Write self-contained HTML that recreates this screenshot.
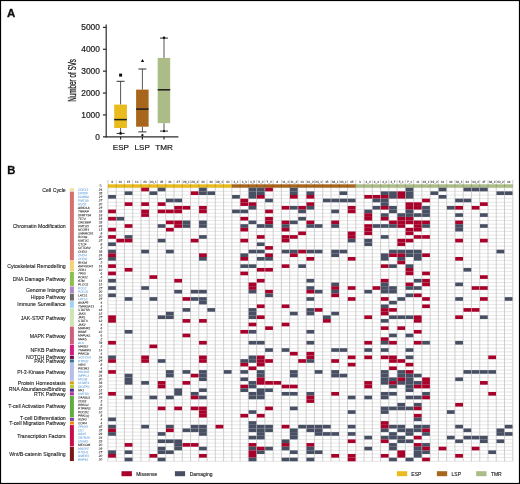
<!DOCTYPE html><html><head><meta charset="utf-8"><title>SV figure</title><style>html,body{margin:0;padding:0;background:#fff;overflow:hidden;}svg{display:block;}text{font-family:'Liberation Sans', Arial, Helvetica, sans-serif;}</style></head><body>
<svg width="520" height="484" viewBox="0 0 520 484">
<defs><filter id="soft" x="0" y="0" width="520" height="484" filterUnits="userSpaceOnUse"><feGaussianBlur stdDeviation="0.3"/></filter></defs>
<rect x="0" y="0" width="520" height="484" fill="#fff"/>
<g filter="url(#soft)">
<rect x="0" y="0" width="520" height="484" fill="#fff"/>
<text transform="translate(7.1,16.6) scale(1.08,1)" font-size="10.6" font-weight="bold" fill="#111" stroke="#111" stroke-width="0.3">A</text>
<g stroke="#2b2b2b" stroke-width="1.2" fill="none">
<line x1="106.20" y1="24.4" x2="106.20" y2="137.40"/>
<line x1="105.60" y1="136.80" x2="178.4" y2="136.80"/>
<line x1="102.9" y1="136.80" x2="106.20" y2="136.80"/>
<line x1="102.9" y1="114.92" x2="106.20" y2="114.92"/>
<line x1="102.9" y1="93.04" x2="106.20" y2="93.04"/>
<line x1="102.9" y1="71.16" x2="106.20" y2="71.16"/>
<line x1="102.9" y1="49.28" x2="106.20" y2="49.28"/>
<line x1="102.9" y1="27.40" x2="106.20" y2="27.40"/>
<line x1="120.60" y1="136.80" x2="120.60" y2="139.6"/>
<line x1="142.40" y1="136.80" x2="142.40" y2="139.6"/>
<line x1="164.00" y1="136.80" x2="164.00" y2="139.6"/>
</g>
<text x="99.9" y="139.80" font-size="8.4" fill="#1e1e1e" stroke="#1e1e1e" stroke-width="0.22" text-anchor="end">0</text>
<text x="99.9" y="117.92" font-size="8.4" fill="#1e1e1e" stroke="#1e1e1e" stroke-width="0.22" text-anchor="end">1000</text>
<text x="99.9" y="96.04" font-size="8.4" fill="#1e1e1e" stroke="#1e1e1e" stroke-width="0.22" text-anchor="end">2000</text>
<text x="99.9" y="74.16" font-size="8.4" fill="#1e1e1e" stroke="#1e1e1e" stroke-width="0.22" text-anchor="end">3000</text>
<text x="99.9" y="52.28" font-size="8.4" fill="#1e1e1e" stroke="#1e1e1e" stroke-width="0.22" text-anchor="end">4000</text>
<text x="99.9" y="30.40" font-size="8.4" fill="#1e1e1e" stroke="#1e1e1e" stroke-width="0.22" text-anchor="end">5000</text>
<text transform="translate(75.8,80.4) rotate(-90) scale(0.62,1)" x="0" y="0" font-size="10.2" fill="#1e1e1e" stroke="#1e1e1e" stroke-width="0.3" text-anchor="middle">Number of SVs</text>
<line x1="120.60" y1="81.30" x2="120.60" y2="104.60" stroke="#555" stroke-width="1"/><line x1="120.60" y1="128.00" x2="120.60" y2="133.40" stroke="#555" stroke-width="1"/><line x1="116.60" y1="81.30" x2="124.60" y2="81.30" stroke="#333" stroke-width="1"/><line x1="116.60" y1="133.40" x2="124.60" y2="133.40" stroke="#333" stroke-width="1"/><rect x="114.20" y="104.60" width="12.70" height="23.40" fill="#e9bb1e"/><rect x="114.20" y="118.85" width="12.70" height="1.5" fill="#1a1a1a"/>
<line x1="142.40" y1="69.00" x2="142.40" y2="89.60" stroke="#555" stroke-width="1"/><line x1="142.40" y1="126.70" x2="142.40" y2="131.90" stroke="#555" stroke-width="1"/><line x1="138.40" y1="69.00" x2="146.40" y2="69.00" stroke="#333" stroke-width="1"/><line x1="138.40" y1="131.90" x2="146.40" y2="131.90" stroke="#333" stroke-width="1"/><rect x="136.10" y="89.60" width="12.50" height="37.10" fill="#a8661f"/><rect x="136.10" y="108.35" width="12.50" height="1.5" fill="#1a1a1a"/>
<line x1="164.00" y1="38.10" x2="164.00" y2="57.90" stroke="#555" stroke-width="1"/><line x1="164.00" y1="123.10" x2="164.00" y2="131.10" stroke="#555" stroke-width="1"/><line x1="160.00" y1="38.10" x2="168.00" y2="38.10" stroke="#333" stroke-width="1"/><line x1="160.00" y1="131.10" x2="168.00" y2="131.10" stroke="#333" stroke-width="1"/><rect x="157.70" y="57.90" width="12.50" height="65.20" fill="#acbc86"/><rect x="157.70" y="89.05" width="12.50" height="1.5" fill="#1a1a1a"/>
<rect x="119.1" y="73.6" width="3" height="3" fill="#111"/>
<path d="M142.5 58.9 L144.2 62.1 L140.8 62.1 Z" fill="#111"/>
<circle cx="120.6" cy="133.4" r="1.3" fill="#111"/>
<circle cx="142.4" cy="135.2" r="1.1" fill="#111"/>
<circle cx="164.0" cy="131.1" r="1.2" fill="#111"/>
<circle cx="164.0" cy="37.8" r="1.3" fill="#111"/>
<text x="120.90" y="150.1" font-size="8.1" fill="#1e1e1e" stroke="#1e1e1e" stroke-width="0.22" text-anchor="middle">ESP</text>
<text x="142.20" y="150.1" font-size="8.1" fill="#1e1e1e" stroke="#1e1e1e" stroke-width="0.22" text-anchor="middle">LSP</text>
<text x="164.10" y="150.1" font-size="8.1" fill="#1e1e1e" stroke="#1e1e1e" stroke-width="0.22" text-anchor="middle">TMR</text>
<text transform="translate(7.2,173.9) scale(1.06,1)" font-size="10.6" font-weight="bold" fill="#111" stroke="#111" stroke-width="0.3">B</text>
<rect x="69.9" y="187.95" width="4.0" height="3.15" fill="#efe4a9"/>
<text x="65.7" y="191.82" font-size="5.2" fill="#1a1a1a" stroke="#1a1a1a" stroke-width="0.1" text-anchor="end">Cell Cycle</text>
<rect x="69.9" y="191.60" width="4.0" height="68.81" fill="#d6716f"/>
<text x="65.7" y="228.30" font-size="5.2" fill="#1a1a1a" stroke="#1a1a1a" stroke-width="0.1" text-anchor="end">Chromatin Modification</text>
<rect x="69.9" y="260.91" width="4.0" height="10.44" fill="#f3d175"/>
<text x="65.7" y="268.43" font-size="5.2" fill="#1a1a1a" stroke="#1a1a1a" stroke-width="0.1" text-anchor="end">Cytoskeletal Remodelling</text>
<rect x="69.9" y="271.85" width="4.0" height="14.09" fill="#8cbf4e"/>
<text x="65.7" y="281.20" font-size="5.2" fill="#1a1a1a" stroke="#1a1a1a" stroke-width="0.1" text-anchor="end">DNA Damage Pathway</text>
<rect x="69.9" y="286.45" width="4.0" height="6.80" fill="#b086c8"/>
<text x="65.7" y="291.64" font-size="5.2" fill="#1a1a1a" stroke="#1a1a1a" stroke-width="0.1" text-anchor="end">Genome Integrity</text>
<rect x="69.9" y="293.74" width="4.0" height="6.80" fill="#696969"/>
<text x="65.7" y="299.44" font-size="5.2" fill="#1a1a1a" stroke="#1a1a1a" stroke-width="0.1" text-anchor="end">Hippo Pathway</text>
<rect x="69.9" y="301.04" width="4.0" height="6.80" fill="#a3d2f6"/>
<text x="65.7" y="306.04" font-size="5.2" fill="#1a1a1a" stroke="#1a1a1a" stroke-width="0.1" text-anchor="end">Immune Surveillance</text>
<rect x="69.9" y="308.33" width="4.0" height="17.74" fill="#cde4b3"/>
<text x="65.7" y="319.50" font-size="5.2" fill="#1a1a1a" stroke="#1a1a1a" stroke-width="0.1" text-anchor="end">JAK-STAT Pathway</text>
<rect x="69.9" y="326.57" width="4.0" height="17.74" fill="#cc5f7c"/>
<text x="65.7" y="337.74" font-size="5.2" fill="#1a1a1a" stroke="#1a1a1a" stroke-width="0.1" text-anchor="end">MAPK Pathway</text>
<rect x="69.9" y="344.81" width="4.0" height="10.44" fill="#d11a80"/>
<text x="65.7" y="352.34" font-size="5.2" fill="#1a1a1a" stroke="#1a1a1a" stroke-width="0.1" text-anchor="end">NFKB Pathway</text>
<rect x="69.9" y="355.76" width="4.0" height="3.15" fill="#6a0e40"/>
<text x="65.7" y="359.03" font-size="5.2" fill="#1a1a1a" stroke="#1a1a1a" stroke-width="0.1" text-anchor="end">NOTCH Pathway</text>
<rect x="69.9" y="359.41" width="4.0" height="3.15" fill="#3b6f95"/>
<text x="65.7" y="363.28" font-size="5.2" fill="#1a1a1a" stroke="#1a1a1a" stroke-width="0.1" text-anchor="end">PAK Pathway</text>
<rect x="69.9" y="363.05" width="4.0" height="17.74" fill="#b7bce8"/>
<text x="65.7" y="374.22" font-size="5.2" fill="#1a1a1a" stroke="#1a1a1a" stroke-width="0.1" text-anchor="end">PI-3-Kinase Pathway</text>
<rect x="69.9" y="381.29" width="4.0" height="3.15" fill="#d3a21a"/>
<text x="65.7" y="385.17" font-size="5.2" fill="#1a1a1a" stroke="#1a1a1a" stroke-width="0.1" text-anchor="end">Protein Homeostasis</text>
<rect x="69.9" y="384.94" width="4.0" height="3.15" fill="#b6cd31"/>
<text x="65.7" y="390.64" font-size="5.2" fill="#1a1a1a" stroke="#1a1a1a" stroke-width="0.1" text-anchor="end">RNA Abundance/Binding</text>
<rect x="69.9" y="388.59" width="4.0" height="3.15" fill="#4b2b8c"/>
<rect x="69.9" y="392.24" width="4.0" height="3.15" fill="#b2339b"/>
<text x="65.7" y="396.11" font-size="5.2" fill="#1a1a1a" stroke="#1a1a1a" stroke-width="0.1" text-anchor="end">RTK Pathway</text>
<rect x="69.9" y="395.89" width="4.0" height="21.39" fill="#5fad3e"/>
<text x="65.7" y="407.63" font-size="5.2" fill="#1a1a1a" stroke="#1a1a1a" stroke-width="0.1" text-anchor="end">T-cell Activation Pathway</text>
<rect x="69.9" y="417.77" width="4.0" height="3.15" fill="#7c40a0"/>
<text x="65.7" y="420.45" font-size="5.2" fill="#1a1a1a" stroke="#1a1a1a" stroke-width="0.1" text-anchor="end">T-cell Differentiation</text>
<rect x="69.9" y="421.42" width="4.0" height="3.15" fill="#e98a12"/>
<text x="65.7" y="425.30" font-size="5.2" fill="#1a1a1a" stroke="#1a1a1a" stroke-width="0.1" text-anchor="end">T-cell Migration Pathway</text>
<rect x="69.9" y="425.07" width="4.0" height="21.39" fill="#c8114e"/>
<text x="65.7" y="438.06" font-size="5.2" fill="#1a1a1a" stroke="#1a1a1a" stroke-width="0.1" text-anchor="end">Transcription Factors</text>
<rect x="69.9" y="446.96" width="4.0" height="14.09" fill="#7b1212"/>
<text x="65.7" y="456.30" font-size="5.2" fill="#1a1a1a" stroke="#1a1a1a" stroke-width="0.1" text-anchor="end">Wnt/B-catenin Signalling</text>
<text transform="translate(99.3,186.6) scale(0.8,1)" font-size="3.4" font-style="italic" fill="#222">%</text>
<text transform="translate(78.0,190.67) rotate(0.3) scale(0.1)" font-size="32" font-style="italic" fill="#69a3dc" stroke="#69a3dc" stroke-width="0.7">CDK12</text>
<text transform="translate(102.2,190.67) rotate(0.3) scale(0.1)" font-size="31" font-style="italic" fill="#1a1a1a" stroke="#1a1a1a" stroke-width="0.7" text-anchor="end">24</text>
<text transform="translate(78.0,194.32) rotate(0.3) scale(0.1)" font-size="32" font-style="italic" fill="#69a3dc" stroke="#69a3dc" stroke-width="0.7">EP300</text>
<text transform="translate(102.2,194.32) rotate(0.3) scale(0.1)" font-size="31" font-style="italic" fill="#1a1a1a" stroke="#1a1a1a" stroke-width="0.7" text-anchor="end">35</text>
<text transform="translate(78.0,197.97) rotate(0.3) scale(0.1)" font-size="32" font-style="italic" fill="#69a3dc" stroke="#69a3dc" stroke-width="0.7">KDM6A</text>
<text transform="translate(102.2,197.97) rotate(0.3) scale(0.1)" font-size="31" font-style="italic" fill="#1a1a1a" stroke="#1a1a1a" stroke-width="0.7" text-anchor="end">27</text>
<text transform="translate(78.0,201.62) rotate(0.3) scale(0.1)" font-size="32" font-style="italic" fill="#69a3dc" stroke="#69a3dc" stroke-width="0.7">KMT2B</text>
<text transform="translate(102.2,201.62) rotate(0.3) scale(0.1)" font-size="31" font-style="italic" fill="#1a1a1a" stroke="#1a1a1a" stroke-width="0.7" text-anchor="end">27</text>
<text transform="translate(78.0,205.27) rotate(0.3) scale(0.1)" font-size="32" font-style="italic" fill="#69a3dc" stroke="#69a3dc" stroke-width="0.7">NSD1</text>
<text transform="translate(102.2,205.27) rotate(0.3) scale(0.1)" font-size="31" font-style="italic" fill="#1a1a1a" stroke="#1a1a1a" stroke-width="0.7" text-anchor="end">20</text>
<text transform="translate(78.0,208.91) rotate(0.3) scale(0.1)" font-size="32" font-style="italic" fill="#1a1a1a" stroke="#1a1a1a" stroke-width="0.7">ARID1A</text>
<text transform="translate(102.2,208.91) rotate(0.3) scale(0.1)" font-size="31" font-style="italic" fill="#1a1a1a" stroke="#1a1a1a" stroke-width="0.7" text-anchor="end">27</text>
<text transform="translate(78.0,212.56) rotate(0.3) scale(0.1)" font-size="32" font-style="italic" fill="#1a1a1a" stroke="#1a1a1a" stroke-width="0.7">TRRAP</text>
<text transform="translate(102.2,212.56) rotate(0.3) scale(0.1)" font-size="31" font-style="italic" fill="#1a1a1a" stroke="#1a1a1a" stroke-width="0.7" text-anchor="end">33</text>
<text transform="translate(78.0,216.21) rotate(0.3) scale(0.1)" font-size="32" font-style="italic" fill="#1a1a1a" stroke="#1a1a1a" stroke-width="0.7">DNMT3A</text>
<text transform="translate(102.2,216.21) rotate(0.3) scale(0.1)" font-size="31" font-style="italic" fill="#1a1a1a" stroke="#1a1a1a" stroke-width="0.7" text-anchor="end">18</text>
<text transform="translate(78.0,219.86) rotate(0.3) scale(0.1)" font-size="32" font-style="italic" fill="#1a1a1a" stroke="#1a1a1a" stroke-width="0.7">TET2</text>
<text transform="translate(102.2,219.86) rotate(0.3) scale(0.1)" font-size="31" font-style="italic" fill="#1a1a1a" stroke="#1a1a1a" stroke-width="0.7" text-anchor="end">18</text>
<text transform="translate(78.0,223.51) rotate(0.3) scale(0.1)" font-size="32" font-style="italic" fill="#1a1a1a" stroke="#1a1a1a" stroke-width="0.7">CREBBP</text>
<text transform="translate(102.2,223.51) rotate(0.3) scale(0.1)" font-size="31" font-style="italic" fill="#1a1a1a" stroke="#1a1a1a" stroke-width="0.7" text-anchor="end">33</text>
<text transform="translate(78.0,227.15) rotate(0.3) scale(0.1)" font-size="32" font-style="italic" fill="#1a1a1a" stroke="#1a1a1a" stroke-width="0.7">KMT2D</text>
<text transform="translate(102.2,227.15) rotate(0.3) scale(0.1)" font-size="31" font-style="italic" fill="#1a1a1a" stroke="#1a1a1a" stroke-width="0.7" text-anchor="end">43</text>
<text transform="translate(78.0,230.80) rotate(0.3) scale(0.1)" font-size="32" font-style="italic" fill="#1a1a1a" stroke="#1a1a1a" stroke-width="0.7">NCOR1</text>
<text transform="translate(102.2,230.80) rotate(0.3) scale(0.1)" font-size="31" font-style="italic" fill="#1a1a1a" stroke="#1a1a1a" stroke-width="0.7" text-anchor="end">13</text>
<text transform="translate(78.0,234.45) rotate(0.3) scale(0.1)" font-size="32" font-style="italic" fill="#1a1a1a" stroke="#1a1a1a" stroke-width="0.7">SMARCB1</text>
<text transform="translate(102.2,234.45) rotate(0.3) scale(0.1)" font-size="31" font-style="italic" fill="#1a1a1a" stroke="#1a1a1a" stroke-width="0.7" text-anchor="end">8</text>
<text transform="translate(78.0,238.10) rotate(0.3) scale(0.1)" font-size="32" font-style="italic" fill="#1a1a1a" stroke="#1a1a1a" stroke-width="0.7">BCOR</text>
<text transform="translate(102.2,238.10) rotate(0.3) scale(0.1)" font-size="31" font-style="italic" fill="#1a1a1a" stroke="#1a1a1a" stroke-width="0.7" text-anchor="end">20</text>
<text transform="translate(78.0,241.75) rotate(0.3) scale(0.1)" font-size="32" font-style="italic" fill="#1a1a1a" stroke="#1a1a1a" stroke-width="0.7">KMT2C</text>
<text transform="translate(102.2,241.75) rotate(0.3) scale(0.1)" font-size="31" font-style="italic" fill="#1a1a1a" stroke="#1a1a1a" stroke-width="0.7" text-anchor="end">27</text>
<text transform="translate(78.0,245.39) rotate(0.3) scale(0.1)" font-size="32" font-style="italic" fill="#1a1a1a" stroke="#1a1a1a" stroke-width="0.7">CTCF</text>
<text transform="translate(102.2,245.39) rotate(0.3) scale(0.1)" font-size="31" font-style="italic" fill="#1a1a1a" stroke="#1a1a1a" stroke-width="0.7" text-anchor="end">8</text>
<text transform="translate(78.0,249.04) rotate(0.3) scale(0.1)" font-size="32" font-style="italic" fill="#1a1a1a" stroke="#1a1a1a" stroke-width="0.7">SETDB2</text>
<text transform="translate(102.2,249.04) rotate(0.3) scale(0.1)" font-size="31" font-style="italic" fill="#1a1a1a" stroke="#1a1a1a" stroke-width="0.7" text-anchor="end">2</text>
<text transform="translate(78.0,252.69) rotate(0.3) scale(0.1)" font-size="32" font-style="italic" fill="#1a1a1a" stroke="#1a1a1a" stroke-width="0.7">CHD3</text>
<text transform="translate(102.2,252.69) rotate(0.3) scale(0.1)" font-size="31" font-style="italic" fill="#1a1a1a" stroke="#1a1a1a" stroke-width="0.7" text-anchor="end">33</text>
<text transform="translate(78.0,256.34) rotate(0.3) scale(0.1)" font-size="32" font-style="italic" fill="#69a3dc" stroke="#69a3dc" stroke-width="0.7">CHD4</text>
<text transform="translate(102.2,256.34) rotate(0.3) scale(0.1)" font-size="31" font-style="italic" fill="#1a1a1a" stroke="#1a1a1a" stroke-width="0.7" text-anchor="end">24</text>
<text transform="translate(78.0,259.99) rotate(0.3) scale(0.1)" font-size="32" font-style="italic" fill="#69a3dc" stroke="#69a3dc" stroke-width="0.7">CHD8</text>
<text transform="translate(102.2,259.99) rotate(0.3) scale(0.1)" font-size="31" font-style="italic" fill="#1a1a1a" stroke="#1a1a1a" stroke-width="0.7" text-anchor="end">20</text>
<text transform="translate(78.0,263.63) rotate(0.3) scale(0.1)" font-size="32" font-style="italic" fill="#1a1a1a" stroke="#1a1a1a" stroke-width="0.7">RHOA</text>
<text transform="translate(102.2,263.63) rotate(0.3) scale(0.1)" font-size="31" font-style="italic" fill="#1a1a1a" stroke="#1a1a1a" stroke-width="0.7" text-anchor="end">2</text>
<text transform="translate(78.0,267.28) rotate(0.3) scale(0.1)" font-size="32" font-style="italic" fill="#1a1a1a" stroke="#1a1a1a" stroke-width="0.7">ARHGEF3</text>
<text transform="translate(102.2,267.28) rotate(0.3) scale(0.1)" font-size="31" font-style="italic" fill="#1a1a1a" stroke="#1a1a1a" stroke-width="0.7" text-anchor="end">16</text>
<text transform="translate(78.0,270.93) rotate(0.3) scale(0.1)" font-size="32" font-style="italic" fill="#1a1a1a" stroke="#1a1a1a" stroke-width="0.7">ZEB1</text>
<text transform="translate(102.2,270.93) rotate(0.3) scale(0.1)" font-size="31" font-style="italic" fill="#1a1a1a" stroke="#1a1a1a" stroke-width="0.7" text-anchor="end">10</text>
<text transform="translate(78.0,274.58) rotate(0.3) scale(0.1)" font-size="32" font-style="italic" fill="#1a1a1a" stroke="#1a1a1a" stroke-width="0.7">TP53</text>
<text transform="translate(102.2,274.58) rotate(0.3) scale(0.1)" font-size="31" font-style="italic" fill="#1a1a1a" stroke="#1a1a1a" stroke-width="0.7" text-anchor="end">6</text>
<text transform="translate(78.0,278.23) rotate(0.3) scale(0.1)" font-size="32" font-style="italic" fill="#1a1a1a" stroke="#1a1a1a" stroke-width="0.7">PCF11</text>
<text transform="translate(102.2,278.23) rotate(0.3) scale(0.1)" font-size="31" font-style="italic" fill="#1a1a1a" stroke="#1a1a1a" stroke-width="0.7" text-anchor="end">4</text>
<text transform="translate(78.0,281.87) rotate(0.3) scale(0.1)" font-size="32" font-style="italic" fill="#1a1a1a" stroke="#1a1a1a" stroke-width="0.7">ATM</text>
<text transform="translate(102.2,281.87) rotate(0.3) scale(0.1)" font-size="31" font-style="italic" fill="#1a1a1a" stroke="#1a1a1a" stroke-width="0.7" text-anchor="end">14</text>
<text transform="translate(78.0,285.52) rotate(0.3) scale(0.1)" font-size="32" font-style="italic" fill="#1a1a1a" stroke="#1a1a1a" stroke-width="0.7">PLCG1</text>
<text transform="translate(102.2,285.52) rotate(0.3) scale(0.1)" font-size="31" font-style="italic" fill="#1a1a1a" stroke="#1a1a1a" stroke-width="0.7" text-anchor="end">12</text>
<text transform="translate(78.0,289.17) rotate(0.3) scale(0.1)" font-size="32" font-style="italic" fill="#69a3dc" stroke="#69a3dc" stroke-width="0.7">POLE</text>
<text transform="translate(102.2,289.17) rotate(0.3) scale(0.1)" font-size="31" font-style="italic" fill="#1a1a1a" stroke="#1a1a1a" stroke-width="0.7" text-anchor="end">27</text>
<text transform="translate(78.0,292.82) rotate(0.3) scale(0.1)" font-size="32" font-style="italic" fill="#69a3dc" stroke="#69a3dc" stroke-width="0.7">POLD1</text>
<text transform="translate(102.2,292.82) rotate(0.3) scale(0.1)" font-size="31" font-style="italic" fill="#1a1a1a" stroke="#1a1a1a" stroke-width="0.7" text-anchor="end">20</text>
<text transform="translate(78.0,296.47) rotate(0.3) scale(0.1)" font-size="32" font-style="italic" fill="#1a1a1a" stroke="#1a1a1a" stroke-width="0.7">LATS1</text>
<text transform="translate(102.2,296.47) rotate(0.3) scale(0.1)" font-size="31" font-style="italic" fill="#1a1a1a" stroke="#1a1a1a" stroke-width="0.7" text-anchor="end">10</text>
<text transform="translate(78.0,300.11) rotate(0.3) scale(0.1)" font-size="32" font-style="italic" fill="#69a3dc" stroke="#69a3dc" stroke-width="0.7">LATS2</text>
<text transform="translate(102.2,300.11) rotate(0.3) scale(0.1)" font-size="31" font-style="italic" fill="#1a1a1a" stroke="#1a1a1a" stroke-width="0.7" text-anchor="end">27</text>
<text transform="translate(78.0,303.76) rotate(0.3) scale(0.1)" font-size="32" font-style="italic" fill="#1a1a1a" stroke="#1a1a1a" stroke-width="0.7">AKAP9</text>
<text transform="translate(102.2,303.76) rotate(0.3) scale(0.1)" font-size="31" font-style="italic" fill="#1a1a1a" stroke="#1a1a1a" stroke-width="0.7" text-anchor="end">4</text>
<text transform="translate(78.0,307.41) rotate(0.3) scale(0.1)" font-size="32" font-style="italic" fill="#1a1a1a" stroke="#1a1a1a" stroke-width="0.7">TNFRSF13</text>
<text transform="translate(102.2,307.41) rotate(0.3) scale(0.1)" font-size="31" font-style="italic" fill="#1a1a1a" stroke="#1a1a1a" stroke-width="0.7" text-anchor="end">4</text>
<text transform="translate(78.0,311.06) rotate(0.3) scale(0.1)" font-size="32" font-style="italic" fill="#1a1a1a" stroke="#1a1a1a" stroke-width="0.7">STAT5B</text>
<text transform="translate(102.2,311.06) rotate(0.3) scale(0.1)" font-size="31" font-style="italic" fill="#1a1a1a" stroke="#1a1a1a" stroke-width="0.7" text-anchor="end">18</text>
<text transform="translate(78.0,314.71) rotate(0.3) scale(0.1)" font-size="32" font-style="italic" fill="#1a1a1a" stroke="#1a1a1a" stroke-width="0.7">JAK3</text>
<text transform="translate(102.2,314.71) rotate(0.3) scale(0.1)" font-size="31" font-style="italic" fill="#1a1a1a" stroke="#1a1a1a" stroke-width="0.7" text-anchor="end">12</text>
<text transform="translate(78.0,318.35) rotate(0.3) scale(0.1)" font-size="32" font-style="italic" fill="#1a1a1a" stroke="#1a1a1a" stroke-width="0.7">JAK1</text>
<text transform="translate(102.2,318.35) rotate(0.3) scale(0.1)" font-size="31" font-style="italic" fill="#1a1a1a" stroke="#1a1a1a" stroke-width="0.7" text-anchor="end">27</text>
<text transform="translate(78.0,322.00) rotate(0.3) scale(0.1)" font-size="32" font-style="italic" fill="#1a1a1a" stroke="#1a1a1a" stroke-width="0.7">STAT3</text>
<text transform="translate(102.2,322.00) rotate(0.3) scale(0.1)" font-size="31" font-style="italic" fill="#1a1a1a" stroke="#1a1a1a" stroke-width="0.7" text-anchor="end">12</text>
<text transform="translate(78.0,325.65) rotate(0.3) scale(0.1)" font-size="32" font-style="italic" fill="#1a1a1a" stroke="#1a1a1a" stroke-width="0.7">JAK2</text>
<text transform="translate(102.2,325.65) rotate(0.3) scale(0.1)" font-size="31" font-style="italic" fill="#1a1a1a" stroke="#1a1a1a" stroke-width="0.7" text-anchor="end">4</text>
<text transform="translate(78.0,329.30) rotate(0.3) scale(0.1)" font-size="32" font-style="italic" fill="#1a1a1a" stroke="#1a1a1a" stroke-width="0.7">MAP4K1</text>
<text transform="translate(102.2,329.30) rotate(0.3) scale(0.1)" font-size="31" font-style="italic" fill="#1a1a1a" stroke="#1a1a1a" stroke-width="0.7" text-anchor="end">6</text>
<text transform="translate(78.0,332.95) rotate(0.3) scale(0.1)" font-size="32" font-style="italic" fill="#1a1a1a" stroke="#1a1a1a" stroke-width="0.7">BRAF</text>
<text transform="translate(102.2,332.95) rotate(0.3) scale(0.1)" font-size="31" font-style="italic" fill="#1a1a1a" stroke="#1a1a1a" stroke-width="0.7" text-anchor="end">10</text>
<text transform="translate(78.0,336.59) rotate(0.3) scale(0.1)" font-size="32" font-style="italic" fill="#1a1a1a" stroke="#1a1a1a" stroke-width="0.7">MAP2K1</text>
<text transform="translate(102.2,336.59) rotate(0.3) scale(0.1)" font-size="31" font-style="italic" fill="#1a1a1a" stroke="#1a1a1a" stroke-width="0.7" text-anchor="end">6</text>
<text transform="translate(78.0,340.24) rotate(0.3) scale(0.1)" font-size="32" font-style="italic" fill="#1a1a1a" stroke="#1a1a1a" stroke-width="0.7">NRAS</text>
<text transform="translate(102.2,340.24) rotate(0.3) scale(0.1)" font-size="31" font-style="italic" fill="#1a1a1a" stroke="#1a1a1a" stroke-width="0.7" text-anchor="end">2</text>
<text transform="translate(78.0,343.89) rotate(0.3) scale(0.1)" font-size="32" font-style="italic" fill="#69a3dc" stroke="#69a3dc" stroke-width="0.7">ALK</text>
<text transform="translate(102.2,343.89) rotate(0.3) scale(0.1)" font-size="31" font-style="italic" fill="#1a1a1a" stroke="#1a1a1a" stroke-width="0.7" text-anchor="end">33</text>
<text transform="translate(78.0,347.54) rotate(0.3) scale(0.1)" font-size="32" font-style="italic" fill="#1a1a1a" stroke="#1a1a1a" stroke-width="0.7">NFKB2</text>
<text transform="translate(102.2,347.54) rotate(0.3) scale(0.1)" font-size="31" font-style="italic" fill="#1a1a1a" stroke="#1a1a1a" stroke-width="0.7" text-anchor="end">2</text>
<text transform="translate(78.0,351.19) rotate(0.3) scale(0.1)" font-size="32" font-style="italic" fill="#1a1a1a" stroke="#1a1a1a" stroke-width="0.7">TNFAIP3</text>
<text transform="translate(102.2,351.19) rotate(0.3) scale(0.1)" font-size="31" font-style="italic" fill="#1a1a1a" stroke="#1a1a1a" stroke-width="0.7" text-anchor="end">14</text>
<text transform="translate(78.0,354.83) rotate(0.3) scale(0.1)" font-size="32" font-style="italic" fill="#1a1a1a" stroke="#1a1a1a" stroke-width="0.7">PRKCB</text>
<text transform="translate(102.2,354.83) rotate(0.3) scale(0.1)" font-size="31" font-style="italic" fill="#1a1a1a" stroke="#1a1a1a" stroke-width="0.7" text-anchor="end">4</text>
<text transform="translate(78.0,358.48) rotate(0.3) scale(0.1)" font-size="32" font-style="italic" fill="#69a3dc" stroke="#69a3dc" stroke-width="0.7">NOTCH2</text>
<text transform="translate(102.2,358.48) rotate(0.3) scale(0.1)" font-size="31" font-style="italic" fill="#1a1a1a" stroke="#1a1a1a" stroke-width="0.7" text-anchor="end">24</text>
<text transform="translate(78.0,362.13) rotate(0.3) scale(0.1)" font-size="32" font-style="italic" fill="#69a3dc" stroke="#69a3dc" stroke-width="0.7">PTPN2</text>
<text transform="translate(102.2,362.13) rotate(0.3) scale(0.1)" font-size="31" font-style="italic" fill="#1a1a1a" stroke="#1a1a1a" stroke-width="0.7" text-anchor="end">27</text>
<text transform="translate(78.0,365.78) rotate(0.3) scale(0.1)" font-size="32" font-style="italic" fill="#1a1a1a" stroke="#1a1a1a" stroke-width="0.7">VAV1</text>
<text transform="translate(102.2,365.78) rotate(0.3) scale(0.1)" font-size="31" font-style="italic" fill="#1a1a1a" stroke="#1a1a1a" stroke-width="0.7" text-anchor="end">8</text>
<text transform="translate(78.0,369.43) rotate(0.3) scale(0.1)" font-size="32" font-style="italic" fill="#1a1a1a" stroke="#1a1a1a" stroke-width="0.7">PIK3R1</text>
<text transform="translate(102.2,369.43) rotate(0.3) scale(0.1)" font-size="31" font-style="italic" fill="#1a1a1a" stroke="#1a1a1a" stroke-width="0.7" text-anchor="end">4</text>
<text transform="translate(78.0,373.07) rotate(0.3) scale(0.1)" font-size="32" font-style="italic" fill="#69a3dc" stroke="#69a3dc" stroke-width="0.7">PIK3CB</text>
<text transform="translate(102.2,373.07) rotate(0.3) scale(0.1)" font-size="31" font-style="italic" fill="#1a1a1a" stroke="#1a1a1a" stroke-width="0.7" text-anchor="end">35</text>
<text transform="translate(78.0,376.72) rotate(0.3) scale(0.1)" font-size="32" font-style="italic" fill="#69a3dc" stroke="#69a3dc" stroke-width="0.7">INPPL1</text>
<text transform="translate(102.2,376.72) rotate(0.3) scale(0.1)" font-size="31" font-style="italic" fill="#1a1a1a" stroke="#1a1a1a" stroke-width="0.7" text-anchor="end">24</text>
<text transform="translate(78.0,380.37) rotate(0.3) scale(0.1)" font-size="32" font-style="italic" fill="#69a3dc" stroke="#69a3dc" stroke-width="0.7">MTOR</text>
<text transform="translate(102.2,380.37) rotate(0.3) scale(0.1)" font-size="31" font-style="italic" fill="#1a1a1a" stroke="#1a1a1a" stroke-width="0.7" text-anchor="end">20</text>
<text transform="translate(78.0,384.02) rotate(0.3) scale(0.1)" font-size="32" font-style="italic" fill="#69a3dc" stroke="#69a3dc" stroke-width="0.7">HUWE1</text>
<text transform="translate(102.2,384.02) rotate(0.3) scale(0.1)" font-size="31" font-style="italic" fill="#1a1a1a" stroke="#1a1a1a" stroke-width="0.7" text-anchor="end">33</text>
<text transform="translate(78.0,387.67) rotate(0.3) scale(0.1)" font-size="32" font-style="italic" fill="#69a3dc" stroke="#69a3dc" stroke-width="0.7">DICER1</text>
<text transform="translate(102.2,387.67) rotate(0.3) scale(0.1)" font-size="31" font-style="italic" fill="#1a1a1a" stroke="#1a1a1a" stroke-width="0.7" text-anchor="end">20</text>
<text transform="translate(78.0,391.31) rotate(0.3) scale(0.1)" font-size="32" font-style="italic" fill="#1a1a1a" stroke="#1a1a1a" stroke-width="0.7">NF1</text>
<text transform="translate(102.2,391.31) rotate(0.3) scale(0.1)" font-size="31" font-style="italic" fill="#1a1a1a" stroke="#1a1a1a" stroke-width="0.7" text-anchor="end">12</text>
<text transform="translate(78.0,394.96) rotate(0.3) scale(0.1)" font-size="32" font-style="italic" fill="#69a3dc" stroke="#69a3dc" stroke-width="0.7">KMT5B</text>
<text transform="translate(102.2,394.96) rotate(0.3) scale(0.1)" font-size="31" font-style="italic" fill="#1a1a1a" stroke="#1a1a1a" stroke-width="0.7" text-anchor="end">27</text>
<text transform="translate(78.0,398.61) rotate(0.3) scale(0.1)" font-size="32" font-style="italic" fill="#1a1a1a" stroke="#1a1a1a" stroke-width="0.7">CARD11</text>
<text transform="translate(102.2,398.61) rotate(0.3) scale(0.1)" font-size="31" font-style="italic" fill="#1a1a1a" stroke="#1a1a1a" stroke-width="0.7" text-anchor="end">29</text>
<text transform="translate(78.0,402.26) rotate(0.3) scale(0.1)" font-size="32" font-style="italic" fill="#1a1a1a" stroke="#1a1a1a" stroke-width="0.7">CD28</text>
<text transform="translate(102.2,402.26) rotate(0.3) scale(0.1)" font-size="31" font-style="italic" fill="#1a1a1a" stroke="#1a1a1a" stroke-width="0.7" text-anchor="end">2</text>
<text transform="translate(78.0,405.91) rotate(0.3) scale(0.1)" font-size="32" font-style="italic" fill="#1a1a1a" stroke="#1a1a1a" stroke-width="0.7">PRKG1</text>
<text transform="translate(102.2,405.91) rotate(0.3) scale(0.1)" font-size="31" font-style="italic" fill="#1a1a1a" stroke="#1a1a1a" stroke-width="0.7" text-anchor="end">6</text>
<text transform="translate(78.0,409.55) rotate(0.3) scale(0.1)" font-size="32" font-style="italic" fill="#1a1a1a" stroke="#1a1a1a" stroke-width="0.7">PTPRN2</text>
<text transform="translate(102.2,409.55) rotate(0.3) scale(0.1)" font-size="31" font-style="italic" fill="#1a1a1a" stroke="#1a1a1a" stroke-width="0.7" text-anchor="end">22</text>
<text transform="translate(78.0,413.20) rotate(0.3) scale(0.1)" font-size="32" font-style="italic" fill="#1a1a1a" stroke="#1a1a1a" stroke-width="0.7">PDCD1</text>
<text transform="translate(102.2,413.20) rotate(0.3) scale(0.1)" font-size="31" font-style="italic" fill="#1a1a1a" stroke="#1a1a1a" stroke-width="0.7" text-anchor="end">10</text>
<text transform="translate(78.0,416.85) rotate(0.3) scale(0.1)" font-size="32" font-style="italic" fill="#1a1a1a" stroke="#1a1a1a" stroke-width="0.7">PRKCQ</text>
<text transform="translate(102.2,416.85) rotate(0.3) scale(0.1)" font-size="31" font-style="italic" fill="#1a1a1a" stroke="#1a1a1a" stroke-width="0.7" text-anchor="end">8</text>
<text transform="translate(78.0,420.50) rotate(0.3) scale(0.1)" font-size="32" font-style="italic" fill="#1a1a1a" stroke="#1a1a1a" stroke-width="0.7">IKZF2</text>
<text transform="translate(102.2,420.50) rotate(0.3) scale(0.1)" font-size="31" font-style="italic" fill="#1a1a1a" stroke="#1a1a1a" stroke-width="0.7" text-anchor="end">4</text>
<text transform="translate(78.0,424.15) rotate(0.3) scale(0.1)" font-size="32" font-style="italic" fill="#1a1a1a" stroke="#1a1a1a" stroke-width="0.7">CCR4</text>
<text transform="translate(102.2,424.15) rotate(0.3) scale(0.1)" font-size="31" font-style="italic" fill="#1a1a1a" stroke="#1a1a1a" stroke-width="0.7" text-anchor="end">4</text>
<text transform="translate(78.0,427.79) rotate(0.3) scale(0.1)" font-size="32" font-style="italic" fill="#69a3dc" stroke="#69a3dc" stroke-width="0.7">ZFHX3</text>
<text transform="translate(102.2,427.79) rotate(0.3) scale(0.1)" font-size="31" font-style="italic" fill="#1a1a1a" stroke="#1a1a1a" stroke-width="0.7" text-anchor="end">45</text>
<text transform="translate(78.0,431.44) rotate(0.3) scale(0.1)" font-size="32" font-style="italic" fill="#69a3dc" stroke="#69a3dc" stroke-width="0.7">CIC</text>
<text transform="translate(102.2,431.44) rotate(0.3) scale(0.1)" font-size="31" font-style="italic" fill="#1a1a1a" stroke="#1a1a1a" stroke-width="0.7" text-anchor="end">37</text>
<text transform="translate(78.0,435.09) rotate(0.3) scale(0.1)" font-size="32" font-style="italic" fill="#69a3dc" stroke="#69a3dc" stroke-width="0.7">PAX5</text>
<text transform="translate(102.2,435.09) rotate(0.3) scale(0.1)" font-size="31" font-style="italic" fill="#1a1a1a" stroke="#1a1a1a" stroke-width="0.7" text-anchor="end">29</text>
<text transform="translate(78.0,438.74) rotate(0.3) scale(0.1)" font-size="32" font-style="italic" fill="#69a3dc" stroke="#69a3dc" stroke-width="0.7">ZBTB20</text>
<text transform="translate(102.2,438.74) rotate(0.3) scale(0.1)" font-size="31" font-style="italic" fill="#1a1a1a" stroke="#1a1a1a" stroke-width="0.7" text-anchor="end">24</text>
<text transform="translate(78.0,442.39) rotate(0.3) scale(0.1)" font-size="32" font-style="italic" fill="#69a3dc" stroke="#69a3dc" stroke-width="0.7">IZUMO</text>
<text transform="translate(102.2,442.39) rotate(0.3) scale(0.1)" font-size="31" font-style="italic" fill="#1a1a1a" stroke="#1a1a1a" stroke-width="0.7" text-anchor="end">22</text>
<text transform="translate(78.0,446.03) rotate(0.3) scale(0.1)" font-size="32" font-style="italic" fill="#1a1a1a" stroke="#1a1a1a" stroke-width="0.7">MECOM</text>
<text transform="translate(102.2,446.03) rotate(0.3) scale(0.1)" font-size="31" font-style="italic" fill="#1a1a1a" stroke="#1a1a1a" stroke-width="0.7" text-anchor="end">20</text>
<text transform="translate(78.0,449.68) rotate(0.3) scale(0.1)" font-size="32" font-style="italic" fill="#69a3dc" stroke="#69a3dc" stroke-width="0.7">MACF1</text>
<text transform="translate(102.2,449.68) rotate(0.3) scale(0.1)" font-size="31" font-style="italic" fill="#1a1a1a" stroke="#1a1a1a" stroke-width="0.7" text-anchor="end">29</text>
<text transform="translate(78.0,453.33) rotate(0.3) scale(0.1)" font-size="32" font-style="italic" fill="#69a3dc" stroke="#69a3dc" stroke-width="0.7">PTCH1</text>
<text transform="translate(102.2,453.33) rotate(0.3) scale(0.1)" font-size="31" font-style="italic" fill="#1a1a1a" stroke="#1a1a1a" stroke-width="0.7" text-anchor="end">27</text>
<text transform="translate(78.0,456.98) rotate(0.3) scale(0.1)" font-size="32" font-style="italic" fill="#69a3dc" stroke="#69a3dc" stroke-width="0.7">AMER1</text>
<text transform="translate(102.2,456.98) rotate(0.3) scale(0.1)" font-size="31" font-style="italic" fill="#1a1a1a" stroke="#1a1a1a" stroke-width="0.7" text-anchor="end">20</text>
<text transform="translate(78.0,460.63) rotate(0.3) scale(0.1)" font-size="32" font-style="italic" fill="#69a3dc" stroke="#69a3dc" stroke-width="0.7">RNF43</text>
<text transform="translate(102.2,460.63) rotate(0.3) scale(0.1)" font-size="31" font-style="italic" fill="#1a1a1a" stroke="#1a1a1a" stroke-width="0.7" text-anchor="end">20</text>
<g stroke="#dedede" stroke-width="0.8">
<line x1="107.90" y1="187.70" x2="512.79" y2="187.70"/>
<line x1="107.90" y1="191.35" x2="512.79" y2="191.35"/>
<line x1="107.90" y1="195.00" x2="512.79" y2="195.00"/>
<line x1="107.90" y1="198.64" x2="512.79" y2="198.64"/>
<line x1="107.90" y1="202.29" x2="512.79" y2="202.29"/>
<line x1="107.90" y1="205.94" x2="512.79" y2="205.94"/>
<line x1="107.90" y1="209.59" x2="512.79" y2="209.59"/>
<line x1="107.90" y1="213.24" x2="512.79" y2="213.24"/>
<line x1="107.90" y1="216.88" x2="512.79" y2="216.88"/>
<line x1="107.90" y1="220.53" x2="512.79" y2="220.53"/>
<line x1="107.90" y1="224.18" x2="512.79" y2="224.18"/>
<line x1="107.90" y1="227.83" x2="512.79" y2="227.83"/>
<line x1="107.90" y1="231.48" x2="512.79" y2="231.48"/>
<line x1="107.90" y1="235.12" x2="512.79" y2="235.12"/>
<line x1="107.90" y1="238.77" x2="512.79" y2="238.77"/>
<line x1="107.90" y1="242.42" x2="512.79" y2="242.42"/>
<line x1="107.90" y1="246.07" x2="512.79" y2="246.07"/>
<line x1="107.90" y1="249.72" x2="512.79" y2="249.72"/>
<line x1="107.90" y1="253.36" x2="512.79" y2="253.36"/>
<line x1="107.90" y1="257.01" x2="512.79" y2="257.01"/>
<line x1="107.90" y1="260.66" x2="512.79" y2="260.66"/>
<line x1="107.90" y1="264.31" x2="512.79" y2="264.31"/>
<line x1="107.90" y1="267.96" x2="512.79" y2="267.96"/>
<line x1="107.90" y1="271.60" x2="512.79" y2="271.60"/>
<line x1="107.90" y1="275.25" x2="512.79" y2="275.25"/>
<line x1="107.90" y1="278.90" x2="512.79" y2="278.90"/>
<line x1="107.90" y1="282.55" x2="512.79" y2="282.55"/>
<line x1="107.90" y1="286.20" x2="512.79" y2="286.20"/>
<line x1="107.90" y1="289.84" x2="512.79" y2="289.84"/>
<line x1="107.90" y1="293.49" x2="512.79" y2="293.49"/>
<line x1="107.90" y1="297.14" x2="512.79" y2="297.14"/>
<line x1="107.90" y1="300.79" x2="512.79" y2="300.79"/>
<line x1="107.90" y1="304.44" x2="512.79" y2="304.44"/>
<line x1="107.90" y1="308.08" x2="512.79" y2="308.08"/>
<line x1="107.90" y1="311.73" x2="512.79" y2="311.73"/>
<line x1="107.90" y1="315.38" x2="512.79" y2="315.38"/>
<line x1="107.90" y1="319.03" x2="512.79" y2="319.03"/>
<line x1="107.90" y1="322.68" x2="512.79" y2="322.68"/>
<line x1="107.90" y1="326.32" x2="512.79" y2="326.32"/>
<line x1="107.90" y1="329.97" x2="512.79" y2="329.97"/>
<line x1="107.90" y1="333.62" x2="512.79" y2="333.62"/>
<line x1="107.90" y1="337.27" x2="512.79" y2="337.27"/>
<line x1="107.90" y1="340.92" x2="512.79" y2="340.92"/>
<line x1="107.90" y1="344.56" x2="512.79" y2="344.56"/>
<line x1="107.90" y1="348.21" x2="512.79" y2="348.21"/>
<line x1="107.90" y1="351.86" x2="512.79" y2="351.86"/>
<line x1="107.90" y1="355.51" x2="512.79" y2="355.51"/>
<line x1="107.90" y1="359.16" x2="512.79" y2="359.16"/>
<line x1="107.90" y1="362.80" x2="512.79" y2="362.80"/>
<line x1="107.90" y1="366.45" x2="512.79" y2="366.45"/>
<line x1="107.90" y1="370.10" x2="512.79" y2="370.10"/>
<line x1="107.90" y1="373.75" x2="512.79" y2="373.75"/>
<line x1="107.90" y1="377.40" x2="512.79" y2="377.40"/>
<line x1="107.90" y1="381.04" x2="512.79" y2="381.04"/>
<line x1="107.90" y1="384.69" x2="512.79" y2="384.69"/>
<line x1="107.90" y1="388.34" x2="512.79" y2="388.34"/>
<line x1="107.90" y1="391.99" x2="512.79" y2="391.99"/>
<line x1="107.90" y1="395.64" x2="512.79" y2="395.64"/>
<line x1="107.90" y1="399.28" x2="512.79" y2="399.28"/>
<line x1="107.90" y1="402.93" x2="512.79" y2="402.93"/>
<line x1="107.90" y1="406.58" x2="512.79" y2="406.58"/>
<line x1="107.90" y1="410.23" x2="512.79" y2="410.23"/>
<line x1="107.90" y1="413.88" x2="512.79" y2="413.88"/>
<line x1="107.90" y1="417.52" x2="512.79" y2="417.52"/>
<line x1="107.90" y1="421.17" x2="512.79" y2="421.17"/>
<line x1="107.90" y1="424.82" x2="512.79" y2="424.82"/>
<line x1="107.90" y1="428.47" x2="512.79" y2="428.47"/>
<line x1="107.90" y1="432.12" x2="512.79" y2="432.12"/>
<line x1="107.90" y1="435.76" x2="512.79" y2="435.76"/>
<line x1="107.90" y1="439.41" x2="512.79" y2="439.41"/>
<line x1="107.90" y1="443.06" x2="512.79" y2="443.06"/>
<line x1="107.90" y1="446.71" x2="512.79" y2="446.71"/>
<line x1="107.90" y1="450.36" x2="512.79" y2="450.36"/>
<line x1="107.90" y1="454.00" x2="512.79" y2="454.00"/>
<line x1="107.90" y1="457.65" x2="512.79" y2="457.65"/>
<line x1="107.90" y1="461.30" x2="512.79" y2="461.30"/>
</g>
<g stroke="#c9c9c9" stroke-width="0.9">
<line x1="107.90" y1="187.50" x2="107.90" y2="461.30"/>
<line x1="116.16" y1="187.50" x2="116.16" y2="461.30"/>
<line x1="124.43" y1="187.50" x2="124.43" y2="461.30"/>
<line x1="132.69" y1="187.50" x2="132.69" y2="461.30"/>
<line x1="140.95" y1="187.50" x2="140.95" y2="461.30"/>
<line x1="149.22" y1="187.50" x2="149.22" y2="461.30"/>
<line x1="157.48" y1="187.50" x2="157.48" y2="461.30"/>
<line x1="165.74" y1="187.50" x2="165.74" y2="461.30"/>
<line x1="174.00" y1="187.50" x2="174.00" y2="461.30"/>
<line x1="182.27" y1="187.50" x2="182.27" y2="461.30"/>
<line x1="190.53" y1="187.50" x2="190.53" y2="461.30"/>
<line x1="198.79" y1="187.50" x2="198.79" y2="461.30"/>
<line x1="207.06" y1="187.50" x2="207.06" y2="461.30"/>
<line x1="215.32" y1="187.50" x2="215.32" y2="461.30"/>
<line x1="223.58" y1="187.50" x2="223.58" y2="461.30"/>
<line x1="231.84" y1="187.50" x2="231.84" y2="461.30"/>
<line x1="240.11" y1="187.50" x2="240.11" y2="461.30"/>
<line x1="248.37" y1="187.50" x2="248.37" y2="461.30"/>
<line x1="256.63" y1="187.50" x2="256.63" y2="461.30"/>
<line x1="264.90" y1="187.50" x2="264.90" y2="461.30"/>
<line x1="273.16" y1="187.50" x2="273.16" y2="461.30"/>
<line x1="281.42" y1="187.50" x2="281.42" y2="461.30"/>
<line x1="289.69" y1="187.50" x2="289.69" y2="461.30"/>
<line x1="297.95" y1="187.50" x2="297.95" y2="461.30"/>
<line x1="306.21" y1="187.50" x2="306.21" y2="461.30"/>
<line x1="314.48" y1="187.50" x2="314.48" y2="461.30"/>
<line x1="322.74" y1="187.50" x2="322.74" y2="461.30"/>
<line x1="331.00" y1="187.50" x2="331.00" y2="461.30"/>
<line x1="339.26" y1="187.50" x2="339.26" y2="461.30"/>
<line x1="347.53" y1="187.50" x2="347.53" y2="461.30"/>
<line x1="355.79" y1="187.50" x2="355.79" y2="461.30"/>
<line x1="364.05" y1="187.50" x2="364.05" y2="461.30"/>
<line x1="372.32" y1="187.50" x2="372.32" y2="461.30"/>
<line x1="380.58" y1="187.50" x2="380.58" y2="461.30"/>
<line x1="388.84" y1="187.50" x2="388.84" y2="461.30"/>
<line x1="397.11" y1="187.50" x2="397.11" y2="461.30"/>
<line x1="405.37" y1="187.50" x2="405.37" y2="461.30"/>
<line x1="413.63" y1="187.50" x2="413.63" y2="461.30"/>
<line x1="421.89" y1="187.50" x2="421.89" y2="461.30"/>
<line x1="430.16" y1="187.50" x2="430.16" y2="461.30"/>
<line x1="438.42" y1="187.50" x2="438.42" y2="461.30"/>
<line x1="446.68" y1="187.50" x2="446.68" y2="461.30"/>
<line x1="454.95" y1="187.50" x2="454.95" y2="461.30"/>
<line x1="463.21" y1="187.50" x2="463.21" y2="461.30"/>
<line x1="471.47" y1="187.50" x2="471.47" y2="461.30"/>
<line x1="479.74" y1="187.50" x2="479.74" y2="461.30"/>
<line x1="488.00" y1="187.50" x2="488.00" y2="461.30"/>
<line x1="496.26" y1="187.50" x2="496.26" y2="461.30"/>
<line x1="504.52" y1="187.50" x2="504.52" y2="461.30"/>
<line x1="512.79" y1="187.50" x2="512.79" y2="461.30"/>
</g>
<text transform="translate(112.03,183.1) rotate(0.3) scale(0.1)" font-size="31" fill="#222" stroke="#222" stroke-width="0.5" text-anchor="middle">9</text>
<text transform="translate(120.29,183.1) rotate(0.3) scale(0.1)" font-size="31" fill="#222" stroke="#222" stroke-width="0.5" text-anchor="middle">10</text>
<text transform="translate(128.56,183.1) rotate(0.3) scale(0.1)" font-size="31" fill="#222" stroke="#222" stroke-width="0.5" text-anchor="middle">15</text>
<text transform="translate(136.82,183.1) rotate(0.3) scale(0.1)" font-size="31" fill="#222" stroke="#222" stroke-width="0.5" text-anchor="middle">16</text>
<text transform="translate(145.08,183.1) rotate(0.3) scale(0.1)" font-size="31" fill="#222" stroke="#222" stroke-width="0.5" text-anchor="middle">20</text>
<text transform="translate(153.35,183.1) rotate(0.3) scale(0.1)" font-size="31" fill="#222" stroke="#222" stroke-width="0.5" text-anchor="middle">20_1</text>
<text transform="translate(161.61,183.1) rotate(0.3) scale(0.1)" font-size="31" fill="#222" stroke="#222" stroke-width="0.5" text-anchor="middle">25</text>
<text transform="translate(169.87,183.1) rotate(0.3) scale(0.1)" font-size="31" fill="#222" stroke="#222" stroke-width="0.5" text-anchor="middle">26</text>
<text transform="translate(178.14,183.1) rotate(0.3) scale(0.1)" font-size="31" fill="#222" stroke="#222" stroke-width="0.5" text-anchor="middle">27</text>
<text transform="translate(186.40,183.1) rotate(0.3) scale(0.1)" font-size="31" fill="#222" stroke="#222" stroke-width="0.5" text-anchor="middle">29_1</text>
<text transform="translate(194.66,183.1) rotate(0.3) scale(0.1)" font-size="31" fill="#222" stroke="#222" stroke-width="0.5" text-anchor="middle">29_2</text>
<text transform="translate(202.92,183.1) rotate(0.3) scale(0.1)" font-size="31" fill="#222" stroke="#222" stroke-width="0.5" text-anchor="middle">30</text>
<text transform="translate(211.19,183.1) rotate(0.3) scale(0.1)" font-size="31" fill="#222" stroke="#222" stroke-width="0.5" text-anchor="middle">36</text>
<text transform="translate(219.45,183.1) rotate(0.3) scale(0.1)" font-size="31" fill="#222" stroke="#222" stroke-width="0.5" text-anchor="middle">39_1</text>
<text transform="translate(227.71,183.1) rotate(0.3) scale(0.1)" font-size="31" fill="#222" stroke="#222" stroke-width="0.5" text-anchor="middle">40</text>
<text transform="translate(235.98,183.1) rotate(0.3) scale(0.1)" font-size="31" fill="#222" stroke="#222" stroke-width="0.5" text-anchor="middle">4_1</text>
<text transform="translate(244.24,183.1) rotate(0.3) scale(0.1)" font-size="31" fill="#222" stroke="#222" stroke-width="0.5" text-anchor="middle">4_3</text>
<text transform="translate(252.50,183.1) rotate(0.3) scale(0.1)" font-size="31" fill="#222" stroke="#222" stroke-width="0.5" text-anchor="middle">4_5</text>
<text transform="translate(260.77,183.1) rotate(0.3) scale(0.1)" font-size="31" fill="#222" stroke="#222" stroke-width="0.5" text-anchor="middle">5_2</text>
<text transform="translate(269.03,183.1) rotate(0.3) scale(0.1)" font-size="31" fill="#222" stroke="#222" stroke-width="0.5" text-anchor="middle">7_2</text>
<text transform="translate(277.29,183.1) rotate(0.3) scale(0.1)" font-size="31" fill="#222" stroke="#222" stroke-width="0.5" text-anchor="middle">8</text>
<text transform="translate(285.55,183.1) rotate(0.3) scale(0.1)" font-size="31" fill="#222" stroke="#222" stroke-width="0.5" text-anchor="middle">11_1</text>
<text transform="translate(293.82,183.1) rotate(0.3) scale(0.1)" font-size="31" fill="#222" stroke="#222" stroke-width="0.5" text-anchor="middle">11_2</text>
<text transform="translate(302.08,183.1) rotate(0.3) scale(0.1)" font-size="31" fill="#222" stroke="#222" stroke-width="0.5" text-anchor="middle">13</text>
<text transform="translate(310.34,183.1) rotate(0.3) scale(0.1)" font-size="31" fill="#222" stroke="#222" stroke-width="0.5" text-anchor="middle">16_2</text>
<text transform="translate(318.61,183.1) rotate(0.3) scale(0.1)" font-size="31" fill="#222" stroke="#222" stroke-width="0.5" text-anchor="middle">24_1</text>
<text transform="translate(326.87,183.1) rotate(0.3) scale(0.1)" font-size="31" fill="#222" stroke="#222" stroke-width="0.5" text-anchor="middle">35</text>
<text transform="translate(335.13,183.1) rotate(0.3) scale(0.1)" font-size="31" fill="#222" stroke="#222" stroke-width="0.5" text-anchor="middle">38_1</text>
<text transform="translate(343.40,183.1) rotate(0.3) scale(0.1)" font-size="31" fill="#222" stroke="#222" stroke-width="0.5" text-anchor="middle">40_1</text>
<text transform="translate(351.66,183.1) rotate(0.3) scale(0.1)" font-size="31" fill="#222" stroke="#222" stroke-width="0.5" text-anchor="middle">45</text>
<text transform="translate(359.92,183.1) rotate(0.3) scale(0.1)" font-size="31" fill="#222" stroke="#222" stroke-width="0.5" text-anchor="middle">3</text>
<text transform="translate(368.18,183.1) rotate(0.3) scale(0.1)" font-size="31" fill="#222" stroke="#222" stroke-width="0.5" text-anchor="middle">4_2</text>
<text transform="translate(376.45,183.1) rotate(0.3) scale(0.1)" font-size="31" fill="#222" stroke="#222" stroke-width="0.5" text-anchor="middle">4_4</text>
<text transform="translate(384.71,183.1) rotate(0.3) scale(0.1)" font-size="31" fill="#222" stroke="#222" stroke-width="0.5" text-anchor="middle">4_6</text>
<text transform="translate(392.97,183.1) rotate(0.3) scale(0.1)" font-size="31" fill="#222" stroke="#222" stroke-width="0.5" text-anchor="middle">4_7</text>
<text transform="translate(401.24,183.1) rotate(0.3) scale(0.1)" font-size="31" fill="#222" stroke="#222" stroke-width="0.5" text-anchor="middle">5_1</text>
<text transform="translate(409.50,183.1) rotate(0.3) scale(0.1)" font-size="31" fill="#222" stroke="#222" stroke-width="0.5" text-anchor="middle">7_1</text>
<text transform="translate(417.76,183.1) rotate(0.3) scale(0.1)" font-size="31" fill="#222" stroke="#222" stroke-width="0.5" text-anchor="middle">11</text>
<text transform="translate(426.03,183.1) rotate(0.3) scale(0.1)" font-size="31" fill="#222" stroke="#222" stroke-width="0.5" text-anchor="middle">19_1</text>
<text transform="translate(434.29,183.1) rotate(0.3) scale(0.1)" font-size="31" fill="#222" stroke="#222" stroke-width="0.5" text-anchor="middle">19_2</text>
<text transform="translate(442.55,183.1) rotate(0.3) scale(0.1)" font-size="31" fill="#222" stroke="#222" stroke-width="0.5" text-anchor="middle">31</text>
<text transform="translate(450.81,183.1) rotate(0.3) scale(0.1)" font-size="31" fill="#222" stroke="#222" stroke-width="0.5" text-anchor="middle">32</text>
<text transform="translate(459.08,183.1) rotate(0.3) scale(0.1)" font-size="31" fill="#222" stroke="#222" stroke-width="0.5" text-anchor="middle">33_1</text>
<text transform="translate(467.34,183.1) rotate(0.3) scale(0.1)" font-size="31" fill="#222" stroke="#222" stroke-width="0.5" text-anchor="middle">34</text>
<text transform="translate(475.60,183.1) rotate(0.3) scale(0.1)" font-size="31" fill="#222" stroke="#222" stroke-width="0.5" text-anchor="middle">34_2</text>
<text transform="translate(483.87,183.1) rotate(0.3) scale(0.1)" font-size="31" fill="#222" stroke="#222" stroke-width="0.5" text-anchor="middle">37</text>
<text transform="translate(492.13,183.1) rotate(0.3) scale(0.1)" font-size="31" fill="#222" stroke="#222" stroke-width="0.5" text-anchor="middle">38_2</text>
<text transform="translate(500.39,183.1) rotate(0.3) scale(0.1)" font-size="31" fill="#222" stroke="#222" stroke-width="0.5" text-anchor="middle">40_2</text>
<text transform="translate(508.66,183.1) rotate(0.3) scale(0.1)" font-size="31" fill="#222" stroke="#222" stroke-width="0.5" text-anchor="middle">44</text>
<rect x="107.90" y="184.3" width="123.94" height="3.4" fill="#e9bb1e"/>
<rect x="231.84" y="184.3" width="123.94" height="3.4" fill="#a8661f"/>
<rect x="355.79" y="184.3" width="157.00" height="3.4" fill="#acbc86"/>
<g stroke="#000" stroke-opacity="0.22" stroke-width="0.7">
<line x1="107.90" y1="183.6" x2="107.90" y2="187.4"/>
<line x1="116.16" y1="183.6" x2="116.16" y2="187.4"/>
<line x1="124.43" y1="183.6" x2="124.43" y2="187.4"/>
<line x1="132.69" y1="183.6" x2="132.69" y2="187.4"/>
<line x1="140.95" y1="183.6" x2="140.95" y2="187.4"/>
<line x1="149.22" y1="183.6" x2="149.22" y2="187.4"/>
<line x1="157.48" y1="183.6" x2="157.48" y2="187.4"/>
<line x1="165.74" y1="183.6" x2="165.74" y2="187.4"/>
<line x1="174.00" y1="183.6" x2="174.00" y2="187.4"/>
<line x1="182.27" y1="183.6" x2="182.27" y2="187.4"/>
<line x1="190.53" y1="183.6" x2="190.53" y2="187.4"/>
<line x1="198.79" y1="183.6" x2="198.79" y2="187.4"/>
<line x1="207.06" y1="183.6" x2="207.06" y2="187.4"/>
<line x1="215.32" y1="183.6" x2="215.32" y2="187.4"/>
<line x1="223.58" y1="183.6" x2="223.58" y2="187.4"/>
<line x1="231.84" y1="183.6" x2="231.84" y2="187.4"/>
<line x1="240.11" y1="183.6" x2="240.11" y2="187.4"/>
<line x1="248.37" y1="183.6" x2="248.37" y2="187.4"/>
<line x1="256.63" y1="183.6" x2="256.63" y2="187.4"/>
<line x1="264.90" y1="183.6" x2="264.90" y2="187.4"/>
<line x1="273.16" y1="183.6" x2="273.16" y2="187.4"/>
<line x1="281.42" y1="183.6" x2="281.42" y2="187.4"/>
<line x1="289.69" y1="183.6" x2="289.69" y2="187.4"/>
<line x1="297.95" y1="183.6" x2="297.95" y2="187.4"/>
<line x1="306.21" y1="183.6" x2="306.21" y2="187.4"/>
<line x1="314.48" y1="183.6" x2="314.48" y2="187.4"/>
<line x1="322.74" y1="183.6" x2="322.74" y2="187.4"/>
<line x1="331.00" y1="183.6" x2="331.00" y2="187.4"/>
<line x1="339.26" y1="183.6" x2="339.26" y2="187.4"/>
<line x1="347.53" y1="183.6" x2="347.53" y2="187.4"/>
<line x1="355.79" y1="183.6" x2="355.79" y2="187.4"/>
<line x1="364.05" y1="183.6" x2="364.05" y2="187.4"/>
<line x1="372.32" y1="183.6" x2="372.32" y2="187.4"/>
<line x1="380.58" y1="183.6" x2="380.58" y2="187.4"/>
<line x1="388.84" y1="183.6" x2="388.84" y2="187.4"/>
<line x1="397.11" y1="183.6" x2="397.11" y2="187.4"/>
<line x1="405.37" y1="183.6" x2="405.37" y2="187.4"/>
<line x1="413.63" y1="183.6" x2="413.63" y2="187.4"/>
<line x1="421.89" y1="183.6" x2="421.89" y2="187.4"/>
<line x1="430.16" y1="183.6" x2="430.16" y2="187.4"/>
<line x1="438.42" y1="183.6" x2="438.42" y2="187.4"/>
<line x1="446.68" y1="183.6" x2="446.68" y2="187.4"/>
<line x1="454.95" y1="183.6" x2="454.95" y2="187.4"/>
<line x1="463.21" y1="183.6" x2="463.21" y2="187.4"/>
<line x1="471.47" y1="183.6" x2="471.47" y2="187.4"/>
<line x1="479.74" y1="183.6" x2="479.74" y2="187.4"/>
<line x1="488.00" y1="183.6" x2="488.00" y2="187.4"/>
<line x1="496.26" y1="183.6" x2="496.26" y2="187.4"/>
<line x1="504.52" y1="183.6" x2="504.52" y2="187.4"/>
<line x1="512.79" y1="183.6" x2="512.79" y2="187.4"/>
</g>
<g stroke="#999" stroke-width="0.5">
<line x1="107.90" y1="179.8" x2="107.90" y2="183.6"/>
<line x1="116.16" y1="179.8" x2="116.16" y2="183.6"/>
<line x1="124.43" y1="179.8" x2="124.43" y2="183.6"/>
<line x1="132.69" y1="179.8" x2="132.69" y2="183.6"/>
<line x1="140.95" y1="179.8" x2="140.95" y2="183.6"/>
<line x1="149.22" y1="179.8" x2="149.22" y2="183.6"/>
<line x1="157.48" y1="179.8" x2="157.48" y2="183.6"/>
<line x1="165.74" y1="179.8" x2="165.74" y2="183.6"/>
<line x1="174.00" y1="179.8" x2="174.00" y2="183.6"/>
<line x1="182.27" y1="179.8" x2="182.27" y2="183.6"/>
<line x1="190.53" y1="179.8" x2="190.53" y2="183.6"/>
<line x1="198.79" y1="179.8" x2="198.79" y2="183.6"/>
<line x1="207.06" y1="179.8" x2="207.06" y2="183.6"/>
<line x1="215.32" y1="179.8" x2="215.32" y2="183.6"/>
<line x1="223.58" y1="179.8" x2="223.58" y2="183.6"/>
<line x1="231.84" y1="179.8" x2="231.84" y2="183.6"/>
<line x1="240.11" y1="179.8" x2="240.11" y2="183.6"/>
<line x1="248.37" y1="179.8" x2="248.37" y2="183.6"/>
<line x1="256.63" y1="179.8" x2="256.63" y2="183.6"/>
<line x1="264.90" y1="179.8" x2="264.90" y2="183.6"/>
<line x1="273.16" y1="179.8" x2="273.16" y2="183.6"/>
<line x1="281.42" y1="179.8" x2="281.42" y2="183.6"/>
<line x1="289.69" y1="179.8" x2="289.69" y2="183.6"/>
<line x1="297.95" y1="179.8" x2="297.95" y2="183.6"/>
<line x1="306.21" y1="179.8" x2="306.21" y2="183.6"/>
<line x1="314.48" y1="179.8" x2="314.48" y2="183.6"/>
<line x1="322.74" y1="179.8" x2="322.74" y2="183.6"/>
<line x1="331.00" y1="179.8" x2="331.00" y2="183.6"/>
<line x1="339.26" y1="179.8" x2="339.26" y2="183.6"/>
<line x1="347.53" y1="179.8" x2="347.53" y2="183.6"/>
<line x1="355.79" y1="179.8" x2="355.79" y2="183.6"/>
<line x1="364.05" y1="179.8" x2="364.05" y2="183.6"/>
<line x1="372.32" y1="179.8" x2="372.32" y2="183.6"/>
<line x1="380.58" y1="179.8" x2="380.58" y2="183.6"/>
<line x1="388.84" y1="179.8" x2="388.84" y2="183.6"/>
<line x1="397.11" y1="179.8" x2="397.11" y2="183.6"/>
<line x1="405.37" y1="179.8" x2="405.37" y2="183.6"/>
<line x1="413.63" y1="179.8" x2="413.63" y2="183.6"/>
<line x1="421.89" y1="179.8" x2="421.89" y2="183.6"/>
<line x1="430.16" y1="179.8" x2="430.16" y2="183.6"/>
<line x1="438.42" y1="179.8" x2="438.42" y2="183.6"/>
<line x1="446.68" y1="179.8" x2="446.68" y2="183.6"/>
<line x1="454.95" y1="179.8" x2="454.95" y2="183.6"/>
<line x1="463.21" y1="179.8" x2="463.21" y2="183.6"/>
<line x1="471.47" y1="179.8" x2="471.47" y2="183.6"/>
<line x1="479.74" y1="179.8" x2="479.74" y2="183.6"/>
<line x1="488.00" y1="179.8" x2="488.00" y2="183.6"/>
<line x1="496.26" y1="179.8" x2="496.26" y2="183.6"/>
<line x1="504.52" y1="179.8" x2="504.52" y2="183.6"/>
<line x1="512.79" y1="179.8" x2="512.79" y2="183.6"/>
</g>
<rect x="141.20" y="187.70" width="7.76" height="3.65" fill="#a8032c"/>
<rect x="157.73" y="187.70" width="7.76" height="3.65" fill="#485064"/>
<rect x="199.04" y="187.70" width="7.76" height="3.65" fill="#485064"/>
<rect x="248.62" y="187.70" width="7.76" height="3.65" fill="#485064"/>
<rect x="256.88" y="187.70" width="7.76" height="3.65" fill="#485064"/>
<rect x="265.15" y="187.70" width="7.76" height="3.65" fill="#a8032c"/>
<rect x="289.94" y="187.70" width="7.76" height="3.65" fill="#485064"/>
<rect x="405.62" y="187.70" width="7.76" height="3.65" fill="#485064"/>
<rect x="438.67" y="187.70" width="7.76" height="3.65" fill="#485064"/>
<rect x="463.46" y="187.70" width="7.76" height="3.65" fill="#485064"/>
<rect x="471.72" y="187.70" width="7.76" height="3.65" fill="#485064"/>
<rect x="479.99" y="187.70" width="7.76" height="3.65" fill="#485064"/>
<rect x="124.68" y="191.35" width="7.76" height="3.65" fill="#485064"/>
<rect x="149.47" y="191.35" width="7.76" height="3.65" fill="#485064"/>
<rect x="190.78" y="191.35" width="7.76" height="3.65" fill="#a8032c"/>
<rect x="199.04" y="191.35" width="7.76" height="3.65" fill="#485064"/>
<rect x="207.31" y="191.35" width="7.76" height="3.65" fill="#485064"/>
<rect x="248.62" y="191.35" width="7.76" height="3.65" fill="#485064"/>
<rect x="256.88" y="191.35" width="7.76" height="3.65" fill="#485064"/>
<rect x="289.94" y="191.35" width="7.76" height="3.65" fill="#485064"/>
<rect x="306.46" y="191.35" width="7.76" height="3.65" fill="#485064"/>
<rect x="339.51" y="191.35" width="7.76" height="3.65" fill="#485064"/>
<rect x="380.83" y="191.35" width="7.76" height="3.65" fill="#485064"/>
<rect x="389.09" y="191.35" width="7.76" height="3.65" fill="#485064"/>
<rect x="397.36" y="191.35" width="7.76" height="3.65" fill="#a8032c"/>
<rect x="405.62" y="191.35" width="7.76" height="3.65" fill="#485064"/>
<rect x="430.41" y="191.35" width="7.76" height="3.65" fill="#485064"/>
<rect x="496.51" y="191.35" width="7.76" height="3.65" fill="#485064"/>
<rect x="504.77" y="191.35" width="7.76" height="3.65" fill="#485064"/>
<rect x="108.15" y="195.00" width="7.76" height="3.65" fill="#485064"/>
<rect x="232.09" y="195.00" width="7.76" height="3.65" fill="#485064"/>
<rect x="248.62" y="195.00" width="7.76" height="3.65" fill="#485064"/>
<rect x="256.88" y="195.00" width="7.76" height="3.65" fill="#a8032c"/>
<rect x="289.94" y="195.00" width="7.76" height="3.65" fill="#a8032c"/>
<rect x="306.46" y="195.00" width="7.76" height="3.65" fill="#a8032c"/>
<rect x="364.30" y="195.00" width="7.76" height="3.65" fill="#a8032c"/>
<rect x="372.57" y="195.00" width="7.76" height="3.65" fill="#a8032c"/>
<rect x="380.83" y="195.00" width="7.76" height="3.65" fill="#a8032c"/>
<rect x="389.09" y="195.00" width="7.76" height="3.65" fill="#485064"/>
<rect x="397.36" y="195.00" width="7.76" height="3.65" fill="#a8032c"/>
<rect x="405.62" y="195.00" width="7.76" height="3.65" fill="#485064"/>
<rect x="438.67" y="195.00" width="7.76" height="3.65" fill="#485064"/>
<rect x="165.99" y="198.64" width="7.76" height="3.65" fill="#485064"/>
<rect x="174.25" y="198.64" width="7.76" height="3.65" fill="#485064"/>
<rect x="240.36" y="198.64" width="7.76" height="3.65" fill="#a8032c"/>
<rect x="265.15" y="198.64" width="7.76" height="3.65" fill="#485064"/>
<rect x="322.99" y="198.64" width="7.76" height="3.65" fill="#485064"/>
<rect x="331.25" y="198.64" width="7.76" height="3.65" fill="#485064"/>
<rect x="339.51" y="198.64" width="7.76" height="3.65" fill="#485064"/>
<rect x="347.78" y="198.64" width="7.76" height="3.65" fill="#485064"/>
<rect x="372.57" y="198.64" width="7.76" height="3.65" fill="#485064"/>
<rect x="380.83" y="198.64" width="7.76" height="3.65" fill="#485064"/>
<rect x="422.14" y="198.64" width="7.76" height="3.65" fill="#a8032c"/>
<rect x="455.20" y="198.64" width="7.76" height="3.65" fill="#485064"/>
<rect x="463.46" y="198.64" width="7.76" height="3.65" fill="#485064"/>
<rect x="124.68" y="202.29" width="7.76" height="3.65" fill="#a8032c"/>
<rect x="141.20" y="202.29" width="7.76" height="3.65" fill="#a8032c"/>
<rect x="157.73" y="202.29" width="7.76" height="3.65" fill="#a8032c"/>
<rect x="240.36" y="202.29" width="7.76" height="3.65" fill="#a8032c"/>
<rect x="248.62" y="202.29" width="7.76" height="3.65" fill="#a8032c"/>
<rect x="306.46" y="202.29" width="7.76" height="3.65" fill="#a8032c"/>
<rect x="380.83" y="202.29" width="7.76" height="3.65" fill="#485064"/>
<rect x="405.62" y="202.29" width="7.76" height="3.65" fill="#a8032c"/>
<rect x="413.88" y="202.29" width="7.76" height="3.65" fill="#a8032c"/>
<rect x="479.99" y="202.29" width="7.76" height="3.65" fill="#a8032c"/>
<rect x="174.25" y="205.94" width="7.76" height="3.65" fill="#a8032c"/>
<rect x="182.52" y="205.94" width="7.76" height="3.65" fill="#a8032c"/>
<rect x="199.04" y="205.94" width="7.76" height="3.65" fill="#a8032c"/>
<rect x="248.62" y="205.94" width="7.76" height="3.65" fill="#485064"/>
<rect x="281.67" y="205.94" width="7.76" height="3.65" fill="#a8032c"/>
<rect x="289.94" y="205.94" width="7.76" height="3.65" fill="#485064"/>
<rect x="298.20" y="205.94" width="7.76" height="3.65" fill="#a8032c"/>
<rect x="306.46" y="205.94" width="7.76" height="3.65" fill="#485064"/>
<rect x="347.78" y="205.94" width="7.76" height="3.65" fill="#a8032c"/>
<rect x="372.57" y="205.94" width="7.76" height="3.65" fill="#485064"/>
<rect x="380.83" y="205.94" width="7.76" height="3.65" fill="#a8032c"/>
<rect x="389.09" y="205.94" width="7.76" height="3.65" fill="#485064"/>
<rect x="405.62" y="205.94" width="7.76" height="3.65" fill="#a8032c"/>
<rect x="413.88" y="205.94" width="7.76" height="3.65" fill="#a8032c"/>
<rect x="422.14" y="205.94" width="7.76" height="3.65" fill="#485064"/>
<rect x="446.93" y="205.94" width="7.76" height="3.65" fill="#485064"/>
<rect x="455.20" y="205.94" width="7.76" height="3.65" fill="#a8032c"/>
<rect x="471.72" y="205.94" width="7.76" height="3.65" fill="#a8032c"/>
<rect x="108.15" y="209.59" width="7.76" height="3.65" fill="#a8032c"/>
<rect x="141.20" y="209.59" width="7.76" height="3.65" fill="#a8032c"/>
<rect x="157.73" y="209.59" width="7.76" height="3.65" fill="#a8032c"/>
<rect x="165.99" y="209.59" width="7.76" height="3.65" fill="#a8032c"/>
<rect x="174.25" y="209.59" width="7.76" height="3.65" fill="#a8032c"/>
<rect x="199.04" y="209.59" width="7.76" height="3.65" fill="#a8032c"/>
<rect x="232.09" y="209.59" width="7.76" height="3.65" fill="#485064"/>
<rect x="240.36" y="209.59" width="7.76" height="3.65" fill="#485064"/>
<rect x="265.15" y="209.59" width="7.76" height="3.65" fill="#a8032c"/>
<rect x="298.20" y="209.59" width="7.76" height="3.65" fill="#485064"/>
<rect x="331.25" y="209.59" width="7.76" height="3.65" fill="#485064"/>
<rect x="347.78" y="209.59" width="7.76" height="3.65" fill="#a8032c"/>
<rect x="364.30" y="209.59" width="7.76" height="3.65" fill="#485064"/>
<rect x="389.09" y="209.59" width="7.76" height="3.65" fill="#485064"/>
<rect x="405.62" y="209.59" width="7.76" height="3.65" fill="#485064"/>
<rect x="422.14" y="209.59" width="7.76" height="3.65" fill="#485064"/>
<rect x="141.20" y="213.24" width="7.76" height="3.65" fill="#a8032c"/>
<rect x="364.30" y="213.24" width="7.76" height="3.65" fill="#a8032c"/>
<rect x="380.83" y="213.24" width="7.76" height="3.65" fill="#485064"/>
<rect x="397.36" y="213.24" width="7.76" height="3.65" fill="#485064"/>
<rect x="405.62" y="213.24" width="7.76" height="3.65" fill="#485064"/>
<rect x="413.88" y="213.24" width="7.76" height="3.65" fill="#485064"/>
<rect x="422.14" y="213.24" width="7.76" height="3.65" fill="#485064"/>
<rect x="455.20" y="213.24" width="7.76" height="3.65" fill="#485064"/>
<rect x="479.99" y="213.24" width="7.76" height="3.65" fill="#485064"/>
<rect x="108.15" y="216.88" width="7.76" height="3.65" fill="#a8032c"/>
<rect x="116.41" y="216.88" width="7.76" height="3.65" fill="#485064"/>
<rect x="240.36" y="216.88" width="7.76" height="3.65" fill="#a8032c"/>
<rect x="265.15" y="216.88" width="7.76" height="3.65" fill="#a8032c"/>
<rect x="298.20" y="216.88" width="7.76" height="3.65" fill="#485064"/>
<rect x="364.30" y="216.88" width="7.76" height="3.65" fill="#a8032c"/>
<rect x="380.83" y="216.88" width="7.76" height="3.65" fill="#a8032c"/>
<rect x="397.36" y="216.88" width="7.76" height="3.65" fill="#a8032c"/>
<rect x="405.62" y="216.88" width="7.76" height="3.65" fill="#a8032c"/>
<rect x="165.99" y="220.53" width="7.76" height="3.65" fill="#a8032c"/>
<rect x="174.25" y="220.53" width="7.76" height="3.65" fill="#a8032c"/>
<rect x="182.52" y="220.53" width="7.76" height="3.65" fill="#485064"/>
<rect x="199.04" y="220.53" width="7.76" height="3.65" fill="#485064"/>
<rect x="248.62" y="220.53" width="7.76" height="3.65" fill="#485064"/>
<rect x="265.15" y="220.53" width="7.76" height="3.65" fill="#a8032c"/>
<rect x="281.67" y="220.53" width="7.76" height="3.65" fill="#a8032c"/>
<rect x="289.94" y="220.53" width="7.76" height="3.65" fill="#485064"/>
<rect x="306.46" y="220.53" width="7.76" height="3.65" fill="#a8032c"/>
<rect x="331.25" y="220.53" width="7.76" height="3.65" fill="#a8032c"/>
<rect x="389.09" y="220.53" width="7.76" height="3.65" fill="#a8032c"/>
<rect x="397.36" y="220.53" width="7.76" height="3.65" fill="#a8032c"/>
<rect x="405.62" y="220.53" width="7.76" height="3.65" fill="#a8032c"/>
<rect x="413.88" y="220.53" width="7.76" height="3.65" fill="#a8032c"/>
<rect x="422.14" y="220.53" width="7.76" height="3.65" fill="#a8032c"/>
<rect x="455.20" y="220.53" width="7.76" height="3.65" fill="#a8032c"/>
<rect x="124.68" y="224.18" width="7.76" height="3.65" fill="#a8032c"/>
<rect x="157.73" y="224.18" width="7.76" height="3.65" fill="#485064"/>
<rect x="174.25" y="224.18" width="7.76" height="3.65" fill="#a8032c"/>
<rect x="182.52" y="224.18" width="7.76" height="3.65" fill="#485064"/>
<rect x="199.04" y="224.18" width="7.76" height="3.65" fill="#485064"/>
<rect x="240.36" y="224.18" width="7.76" height="3.65" fill="#485064"/>
<rect x="256.88" y="224.18" width="7.76" height="3.65" fill="#485064"/>
<rect x="265.15" y="224.18" width="7.76" height="3.65" fill="#485064"/>
<rect x="281.67" y="224.18" width="7.76" height="3.65" fill="#485064"/>
<rect x="306.46" y="224.18" width="7.76" height="3.65" fill="#485064"/>
<rect x="314.73" y="224.18" width="7.76" height="3.65" fill="#485064"/>
<rect x="331.25" y="224.18" width="7.76" height="3.65" fill="#485064"/>
<rect x="364.30" y="224.18" width="7.76" height="3.65" fill="#a8032c"/>
<rect x="372.57" y="224.18" width="7.76" height="3.65" fill="#485064"/>
<rect x="380.83" y="224.18" width="7.76" height="3.65" fill="#485064"/>
<rect x="389.09" y="224.18" width="7.76" height="3.65" fill="#485064"/>
<rect x="397.36" y="224.18" width="7.76" height="3.65" fill="#a8032c"/>
<rect x="413.88" y="224.18" width="7.76" height="3.65" fill="#a8032c"/>
<rect x="422.14" y="224.18" width="7.76" height="3.65" fill="#485064"/>
<rect x="455.20" y="224.18" width="7.76" height="3.65" fill="#485064"/>
<rect x="479.99" y="224.18" width="7.76" height="3.65" fill="#485064"/>
<rect x="108.15" y="227.83" width="7.76" height="3.65" fill="#a8032c"/>
<rect x="165.99" y="227.83" width="7.76" height="3.65" fill="#a8032c"/>
<rect x="240.36" y="227.83" width="7.76" height="3.65" fill="#a8032c"/>
<rect x="281.67" y="227.83" width="7.76" height="3.65" fill="#a8032c"/>
<rect x="364.30" y="227.83" width="7.76" height="3.65" fill="#a8032c"/>
<rect x="405.62" y="227.83" width="7.76" height="3.65" fill="#a8032c"/>
<rect x="413.88" y="227.83" width="7.76" height="3.65" fill="#a8032c"/>
<rect x="455.20" y="227.83" width="7.76" height="3.65" fill="#485064"/>
<rect x="298.20" y="231.48" width="7.76" height="3.65" fill="#a8032c"/>
<rect x="347.78" y="231.48" width="7.76" height="3.65" fill="#a8032c"/>
<rect x="364.30" y="231.48" width="7.76" height="3.65" fill="#a8032c"/>
<rect x="405.62" y="231.48" width="7.76" height="3.65" fill="#a8032c"/>
<rect x="108.15" y="235.12" width="7.76" height="3.65" fill="#a8032c"/>
<rect x="124.68" y="235.12" width="7.76" height="3.65" fill="#485064"/>
<rect x="199.04" y="235.12" width="7.76" height="3.65" fill="#485064"/>
<rect x="256.88" y="235.12" width="7.76" height="3.65" fill="#a8032c"/>
<rect x="281.67" y="235.12" width="7.76" height="3.65" fill="#a8032c"/>
<rect x="289.94" y="235.12" width="7.76" height="3.65" fill="#a8032c"/>
<rect x="347.78" y="235.12" width="7.76" height="3.65" fill="#a8032c"/>
<rect x="380.83" y="235.12" width="7.76" height="3.65" fill="#485064"/>
<rect x="413.88" y="235.12" width="7.76" height="3.65" fill="#a8032c"/>
<rect x="422.14" y="235.12" width="7.76" height="3.65" fill="#a8032c"/>
<rect x="116.41" y="238.77" width="7.76" height="3.65" fill="#a8032c"/>
<rect x="124.68" y="238.77" width="7.76" height="3.65" fill="#a8032c"/>
<rect x="157.73" y="238.77" width="7.76" height="3.65" fill="#485064"/>
<rect x="190.78" y="238.77" width="7.76" height="3.65" fill="#a8032c"/>
<rect x="240.36" y="238.77" width="7.76" height="3.65" fill="#a8032c"/>
<rect x="281.67" y="238.77" width="7.76" height="3.65" fill="#a8032c"/>
<rect x="347.78" y="238.77" width="7.76" height="3.65" fill="#485064"/>
<rect x="364.30" y="238.77" width="7.76" height="3.65" fill="#485064"/>
<rect x="397.36" y="238.77" width="7.76" height="3.65" fill="#a8032c"/>
<rect x="405.62" y="238.77" width="7.76" height="3.65" fill="#a8032c"/>
<rect x="455.20" y="238.77" width="7.76" height="3.65" fill="#a8032c"/>
<rect x="479.99" y="238.77" width="7.76" height="3.65" fill="#a8032c"/>
<rect x="108.15" y="242.42" width="7.76" height="3.65" fill="#485064"/>
<rect x="256.88" y="242.42" width="7.76" height="3.65" fill="#485064"/>
<rect x="364.30" y="242.42" width="7.76" height="3.65" fill="#485064"/>
<rect x="397.36" y="242.42" width="7.76" height="3.65" fill="#a8032c"/>
<rect x="265.15" y="246.07" width="7.76" height="3.65" fill="#a8032c"/>
<rect x="108.15" y="249.72" width="7.76" height="3.65" fill="#485064"/>
<rect x="141.20" y="249.72" width="7.76" height="3.65" fill="#485064"/>
<rect x="165.99" y="249.72" width="7.76" height="3.65" fill="#485064"/>
<rect x="248.62" y="249.72" width="7.76" height="3.65" fill="#485064"/>
<rect x="256.88" y="249.72" width="7.76" height="3.65" fill="#485064"/>
<rect x="281.67" y="249.72" width="7.76" height="3.65" fill="#485064"/>
<rect x="289.94" y="249.72" width="7.76" height="3.65" fill="#485064"/>
<rect x="298.20" y="249.72" width="7.76" height="3.65" fill="#a8032c"/>
<rect x="306.46" y="249.72" width="7.76" height="3.65" fill="#485064"/>
<rect x="314.73" y="249.72" width="7.76" height="3.65" fill="#485064"/>
<rect x="331.25" y="249.72" width="7.76" height="3.65" fill="#485064"/>
<rect x="339.51" y="249.72" width="7.76" height="3.65" fill="#485064"/>
<rect x="389.09" y="249.72" width="7.76" height="3.65" fill="#485064"/>
<rect x="397.36" y="249.72" width="7.76" height="3.65" fill="#485064"/>
<rect x="405.62" y="249.72" width="7.76" height="3.65" fill="#485064"/>
<rect x="413.88" y="249.72" width="7.76" height="3.65" fill="#485064"/>
<rect x="496.51" y="249.72" width="7.76" height="3.65" fill="#485064"/>
<rect x="108.15" y="253.36" width="7.76" height="3.65" fill="#a8032c"/>
<rect x="199.04" y="253.36" width="7.76" height="3.65" fill="#a8032c"/>
<rect x="240.36" y="253.36" width="7.76" height="3.65" fill="#485064"/>
<rect x="265.15" y="253.36" width="7.76" height="3.65" fill="#a8032c"/>
<rect x="289.94" y="253.36" width="7.76" height="3.65" fill="#a8032c"/>
<rect x="331.25" y="253.36" width="7.76" height="3.65" fill="#485064"/>
<rect x="380.83" y="253.36" width="7.76" height="3.65" fill="#485064"/>
<rect x="389.09" y="253.36" width="7.76" height="3.65" fill="#a8032c"/>
<rect x="397.36" y="253.36" width="7.76" height="3.65" fill="#a8032c"/>
<rect x="405.62" y="253.36" width="7.76" height="3.65" fill="#485064"/>
<rect x="413.88" y="253.36" width="7.76" height="3.65" fill="#485064"/>
<rect x="422.14" y="253.36" width="7.76" height="3.65" fill="#a8032c"/>
<rect x="108.15" y="257.01" width="7.76" height="3.65" fill="#485064"/>
<rect x="199.04" y="257.01" width="7.76" height="3.65" fill="#485064"/>
<rect x="240.36" y="257.01" width="7.76" height="3.65" fill="#a8032c"/>
<rect x="256.88" y="257.01" width="7.76" height="3.65" fill="#485064"/>
<rect x="265.15" y="257.01" width="7.76" height="3.65" fill="#485064"/>
<rect x="306.46" y="257.01" width="7.76" height="3.65" fill="#a8032c"/>
<rect x="347.78" y="257.01" width="7.76" height="3.65" fill="#a8032c"/>
<rect x="380.83" y="257.01" width="7.76" height="3.65" fill="#485064"/>
<rect x="397.36" y="257.01" width="7.76" height="3.65" fill="#485064"/>
<rect x="413.88" y="257.01" width="7.76" height="3.65" fill="#485064"/>
<rect x="455.20" y="257.01" width="7.76" height="3.65" fill="#a8032c"/>
<rect x="397.36" y="260.66" width="7.76" height="3.65" fill="#a8032c"/>
<rect x="108.15" y="264.31" width="7.76" height="3.65" fill="#a8032c"/>
<rect x="240.36" y="264.31" width="7.76" height="3.65" fill="#485064"/>
<rect x="248.62" y="264.31" width="7.76" height="3.65" fill="#485064"/>
<rect x="281.67" y="264.31" width="7.76" height="3.65" fill="#a8032c"/>
<rect x="298.20" y="264.31" width="7.76" height="3.65" fill="#485064"/>
<rect x="380.83" y="264.31" width="7.76" height="3.65" fill="#a8032c"/>
<rect x="389.09" y="264.31" width="7.76" height="3.65" fill="#485064"/>
<rect x="405.62" y="264.31" width="7.76" height="3.65" fill="#485064"/>
<rect x="124.68" y="267.96" width="7.76" height="3.65" fill="#a8032c"/>
<rect x="256.88" y="267.96" width="7.76" height="3.65" fill="#a8032c"/>
<rect x="265.15" y="267.96" width="7.76" height="3.65" fill="#a8032c"/>
<rect x="405.62" y="267.96" width="7.76" height="3.65" fill="#a8032c"/>
<rect x="463.46" y="267.96" width="7.76" height="3.65" fill="#485064"/>
<rect x="108.15" y="271.60" width="7.76" height="3.65" fill="#a8032c"/>
<rect x="240.36" y="271.60" width="7.76" height="3.65" fill="#a8032c"/>
<rect x="405.62" y="271.60" width="7.76" height="3.65" fill="#a8032c"/>
<rect x="422.14" y="271.60" width="7.76" height="3.65" fill="#a8032c"/>
<rect x="149.47" y="275.25" width="7.76" height="3.65" fill="#a8032c"/>
<rect x="479.99" y="275.25" width="7.76" height="3.65" fill="#a8032c"/>
<rect x="108.15" y="278.90" width="7.76" height="3.65" fill="#485064"/>
<rect x="174.25" y="278.90" width="7.76" height="3.65" fill="#a8032c"/>
<rect x="256.88" y="278.90" width="7.76" height="3.65" fill="#a8032c"/>
<rect x="306.46" y="278.90" width="7.76" height="3.65" fill="#485064"/>
<rect x="380.83" y="278.90" width="7.76" height="3.65" fill="#a8032c"/>
<rect x="413.88" y="278.90" width="7.76" height="3.65" fill="#485064"/>
<rect x="422.14" y="278.90" width="7.76" height="3.65" fill="#a8032c"/>
<rect x="248.62" y="282.55" width="7.76" height="3.65" fill="#a8032c"/>
<rect x="331.25" y="282.55" width="7.76" height="3.65" fill="#485064"/>
<rect x="380.83" y="282.55" width="7.76" height="3.65" fill="#485064"/>
<rect x="405.62" y="282.55" width="7.76" height="3.65" fill="#a8032c"/>
<rect x="422.14" y="282.55" width="7.76" height="3.65" fill="#a8032c"/>
<rect x="455.20" y="282.55" width="7.76" height="3.65" fill="#485064"/>
<rect x="108.15" y="286.20" width="7.76" height="3.65" fill="#485064"/>
<rect x="141.20" y="286.20" width="7.76" height="3.65" fill="#485064"/>
<rect x="248.62" y="286.20" width="7.76" height="3.65" fill="#a8032c"/>
<rect x="306.46" y="286.20" width="7.76" height="3.65" fill="#485064"/>
<rect x="331.25" y="286.20" width="7.76" height="3.65" fill="#a8032c"/>
<rect x="347.78" y="286.20" width="7.76" height="3.65" fill="#a8032c"/>
<rect x="372.57" y="286.20" width="7.76" height="3.65" fill="#a8032c"/>
<rect x="380.83" y="286.20" width="7.76" height="3.65" fill="#485064"/>
<rect x="389.09" y="286.20" width="7.76" height="3.65" fill="#485064"/>
<rect x="405.62" y="286.20" width="7.76" height="3.65" fill="#485064"/>
<rect x="413.88" y="286.20" width="7.76" height="3.65" fill="#485064"/>
<rect x="471.72" y="286.20" width="7.76" height="3.65" fill="#a8032c"/>
<rect x="479.99" y="286.20" width="7.76" height="3.65" fill="#a8032c"/>
<rect x="174.25" y="289.84" width="7.76" height="3.65" fill="#485064"/>
<rect x="190.78" y="289.84" width="7.76" height="3.65" fill="#485064"/>
<rect x="199.04" y="289.84" width="7.76" height="3.65" fill="#485064"/>
<rect x="248.62" y="289.84" width="7.76" height="3.65" fill="#485064"/>
<rect x="265.15" y="289.84" width="7.76" height="3.65" fill="#a8032c"/>
<rect x="306.46" y="289.84" width="7.76" height="3.65" fill="#a8032c"/>
<rect x="314.73" y="289.84" width="7.76" height="3.65" fill="#485064"/>
<rect x="331.25" y="289.84" width="7.76" height="3.65" fill="#485064"/>
<rect x="364.30" y="289.84" width="7.76" height="3.65" fill="#485064"/>
<rect x="380.83" y="289.84" width="7.76" height="3.65" fill="#485064"/>
<rect x="389.09" y="289.84" width="7.76" height="3.65" fill="#485064"/>
<rect x="108.15" y="293.49" width="7.76" height="3.65" fill="#485064"/>
<rect x="265.15" y="293.49" width="7.76" height="3.65" fill="#485064"/>
<rect x="331.25" y="293.49" width="7.76" height="3.65" fill="#a8032c"/>
<rect x="405.62" y="293.49" width="7.76" height="3.65" fill="#485064"/>
<rect x="413.88" y="293.49" width="7.76" height="3.65" fill="#a8032c"/>
<rect x="124.68" y="297.14" width="7.76" height="3.65" fill="#485064"/>
<rect x="149.47" y="297.14" width="7.76" height="3.65" fill="#485064"/>
<rect x="182.52" y="297.14" width="7.76" height="3.65" fill="#a8032c"/>
<rect x="190.78" y="297.14" width="7.76" height="3.65" fill="#485064"/>
<rect x="199.04" y="297.14" width="7.76" height="3.65" fill="#485064"/>
<rect x="306.46" y="297.14" width="7.76" height="3.65" fill="#485064"/>
<rect x="347.78" y="297.14" width="7.76" height="3.65" fill="#a8032c"/>
<rect x="380.83" y="297.14" width="7.76" height="3.65" fill="#a8032c"/>
<rect x="397.36" y="297.14" width="7.76" height="3.65" fill="#485064"/>
<rect x="422.14" y="297.14" width="7.76" height="3.65" fill="#a8032c"/>
<rect x="455.20" y="297.14" width="7.76" height="3.65" fill="#485064"/>
<rect x="479.99" y="297.14" width="7.76" height="3.65" fill="#a8032c"/>
<rect x="504.77" y="297.14" width="7.76" height="3.65" fill="#485064"/>
<rect x="199.04" y="300.79" width="7.76" height="3.65" fill="#485064"/>
<rect x="389.09" y="300.79" width="7.76" height="3.65" fill="#485064"/>
<rect x="256.88" y="304.44" width="7.76" height="3.65" fill="#a8032c"/>
<rect x="281.67" y="304.44" width="7.76" height="3.65" fill="#a8032c"/>
<rect x="380.83" y="304.44" width="7.76" height="3.65" fill="#485064"/>
<rect x="422.14" y="304.44" width="7.76" height="3.65" fill="#a8032c"/>
<rect x="182.52" y="308.08" width="7.76" height="3.65" fill="#485064"/>
<rect x="207.31" y="308.08" width="7.76" height="3.65" fill="#485064"/>
<rect x="248.62" y="308.08" width="7.76" height="3.65" fill="#485064"/>
<rect x="306.46" y="308.08" width="7.76" height="3.65" fill="#485064"/>
<rect x="314.73" y="308.08" width="7.76" height="3.65" fill="#a8032c"/>
<rect x="380.83" y="308.08" width="7.76" height="3.65" fill="#a8032c"/>
<rect x="389.09" y="308.08" width="7.76" height="3.65" fill="#a8032c"/>
<rect x="463.46" y="308.08" width="7.76" height="3.65" fill="#a8032c"/>
<rect x="471.72" y="308.08" width="7.76" height="3.65" fill="#a8032c"/>
<rect x="165.99" y="311.73" width="7.76" height="3.65" fill="#485064"/>
<rect x="248.62" y="311.73" width="7.76" height="3.65" fill="#485064"/>
<rect x="289.94" y="311.73" width="7.76" height="3.65" fill="#485064"/>
<rect x="306.46" y="311.73" width="7.76" height="3.65" fill="#485064"/>
<rect x="331.25" y="311.73" width="7.76" height="3.65" fill="#485064"/>
<rect x="380.83" y="311.73" width="7.76" height="3.65" fill="#a8032c"/>
<rect x="108.15" y="315.38" width="7.76" height="3.65" fill="#a8032c"/>
<rect x="157.73" y="315.38" width="7.76" height="3.65" fill="#485064"/>
<rect x="165.99" y="315.38" width="7.76" height="3.65" fill="#485064"/>
<rect x="248.62" y="315.38" width="7.76" height="3.65" fill="#485064"/>
<rect x="256.88" y="315.38" width="7.76" height="3.65" fill="#a8032c"/>
<rect x="322.99" y="315.38" width="7.76" height="3.65" fill="#485064"/>
<rect x="364.30" y="315.38" width="7.76" height="3.65" fill="#a8032c"/>
<rect x="389.09" y="315.38" width="7.76" height="3.65" fill="#485064"/>
<rect x="397.36" y="315.38" width="7.76" height="3.65" fill="#485064"/>
<rect x="405.62" y="315.38" width="7.76" height="3.65" fill="#485064"/>
<rect x="413.88" y="315.38" width="7.76" height="3.65" fill="#a8032c"/>
<rect x="455.20" y="315.38" width="7.76" height="3.65" fill="#a8032c"/>
<rect x="479.99" y="315.38" width="7.76" height="3.65" fill="#485064"/>
<rect x="108.15" y="319.03" width="7.76" height="3.65" fill="#a8032c"/>
<rect x="182.52" y="319.03" width="7.76" height="3.65" fill="#a8032c"/>
<rect x="199.04" y="319.03" width="7.76" height="3.65" fill="#a8032c"/>
<rect x="322.99" y="319.03" width="7.76" height="3.65" fill="#a8032c"/>
<rect x="380.83" y="319.03" width="7.76" height="3.65" fill="#485064"/>
<rect x="413.88" y="319.03" width="7.76" height="3.65" fill="#a8032c"/>
<rect x="248.62" y="322.68" width="7.76" height="3.65" fill="#a8032c"/>
<rect x="281.67" y="322.68" width="7.76" height="3.65" fill="#a8032c"/>
<rect x="265.15" y="326.32" width="7.76" height="3.65" fill="#a8032c"/>
<rect x="380.83" y="326.32" width="7.76" height="3.65" fill="#a8032c"/>
<rect x="397.36" y="326.32" width="7.76" height="3.65" fill="#a8032c"/>
<rect x="124.68" y="329.97" width="7.76" height="3.65" fill="#485064"/>
<rect x="240.36" y="329.97" width="7.76" height="3.65" fill="#a8032c"/>
<rect x="248.62" y="329.97" width="7.76" height="3.65" fill="#485064"/>
<rect x="306.46" y="329.97" width="7.76" height="3.65" fill="#485064"/>
<rect x="413.88" y="329.97" width="7.76" height="3.65" fill="#a8032c"/>
<rect x="182.52" y="333.62" width="7.76" height="3.65" fill="#a8032c"/>
<rect x="389.09" y="333.62" width="7.76" height="3.65" fill="#485064"/>
<rect x="405.62" y="333.62" width="7.76" height="3.65" fill="#485064"/>
<rect x="380.83" y="337.27" width="7.76" height="3.65" fill="#a8032c"/>
<rect x="108.15" y="340.92" width="7.76" height="3.65" fill="#a8032c"/>
<rect x="199.04" y="340.92" width="7.76" height="3.65" fill="#a8032c"/>
<rect x="248.62" y="340.92" width="7.76" height="3.65" fill="#485064"/>
<rect x="256.88" y="340.92" width="7.76" height="3.65" fill="#485064"/>
<rect x="306.46" y="340.92" width="7.76" height="3.65" fill="#485064"/>
<rect x="364.30" y="340.92" width="7.76" height="3.65" fill="#a8032c"/>
<rect x="380.83" y="340.92" width="7.76" height="3.65" fill="#485064"/>
<rect x="389.09" y="340.92" width="7.76" height="3.65" fill="#a8032c"/>
<rect x="413.88" y="340.92" width="7.76" height="3.65" fill="#a8032c"/>
<rect x="422.14" y="340.92" width="7.76" height="3.65" fill="#485064"/>
<rect x="455.20" y="340.92" width="7.76" height="3.65" fill="#485064"/>
<rect x="149.47" y="344.56" width="7.76" height="3.65" fill="#a8032c"/>
<rect x="265.15" y="348.21" width="7.76" height="3.65" fill="#485064"/>
<rect x="281.67" y="348.21" width="7.76" height="3.65" fill="#485064"/>
<rect x="331.25" y="348.21" width="7.76" height="3.65" fill="#485064"/>
<rect x="339.51" y="348.21" width="7.76" height="3.65" fill="#485064"/>
<rect x="364.30" y="348.21" width="7.76" height="3.65" fill="#485064"/>
<rect x="380.83" y="348.21" width="7.76" height="3.65" fill="#485064"/>
<rect x="405.62" y="348.21" width="7.76" height="3.65" fill="#485064"/>
<rect x="289.94" y="351.86" width="7.76" height="3.65" fill="#a8032c"/>
<rect x="306.46" y="351.86" width="7.76" height="3.65" fill="#a8032c"/>
<rect x="108.15" y="355.51" width="7.76" height="3.65" fill="#485064"/>
<rect x="141.20" y="355.51" width="7.76" height="3.65" fill="#a8032c"/>
<rect x="199.04" y="355.51" width="7.76" height="3.65" fill="#a8032c"/>
<rect x="248.62" y="355.51" width="7.76" height="3.65" fill="#485064"/>
<rect x="256.88" y="355.51" width="7.76" height="3.65" fill="#a8032c"/>
<rect x="306.46" y="355.51" width="7.76" height="3.65" fill="#a8032c"/>
<rect x="347.78" y="355.51" width="7.76" height="3.65" fill="#a8032c"/>
<rect x="364.30" y="355.51" width="7.76" height="3.65" fill="#a8032c"/>
<rect x="380.83" y="355.51" width="7.76" height="3.65" fill="#a8032c"/>
<rect x="389.09" y="355.51" width="7.76" height="3.65" fill="#a8032c"/>
<rect x="405.62" y="355.51" width="7.76" height="3.65" fill="#485064"/>
<rect x="488.25" y="355.51" width="7.76" height="3.65" fill="#a8032c"/>
<rect x="108.15" y="359.16" width="7.76" height="3.65" fill="#a8032c"/>
<rect x="141.20" y="359.16" width="7.76" height="3.65" fill="#a8032c"/>
<rect x="157.73" y="359.16" width="7.76" height="3.65" fill="#485064"/>
<rect x="199.04" y="359.16" width="7.76" height="3.65" fill="#a8032c"/>
<rect x="240.36" y="359.16" width="7.76" height="3.65" fill="#485064"/>
<rect x="248.62" y="359.16" width="7.76" height="3.65" fill="#485064"/>
<rect x="256.88" y="359.16" width="7.76" height="3.65" fill="#a8032c"/>
<rect x="265.15" y="359.16" width="7.76" height="3.65" fill="#a8032c"/>
<rect x="298.20" y="359.16" width="7.76" height="3.65" fill="#a8032c"/>
<rect x="306.46" y="359.16" width="7.76" height="3.65" fill="#485064"/>
<rect x="331.25" y="359.16" width="7.76" height="3.65" fill="#a8032c"/>
<rect x="389.09" y="359.16" width="7.76" height="3.65" fill="#a8032c"/>
<rect x="397.36" y="359.16" width="7.76" height="3.65" fill="#a8032c"/>
<rect x="240.36" y="362.80" width="7.76" height="3.65" fill="#a8032c"/>
<rect x="256.88" y="362.80" width="7.76" height="3.65" fill="#a8032c"/>
<rect x="347.78" y="362.80" width="7.76" height="3.65" fill="#a8032c"/>
<rect x="405.62" y="362.80" width="7.76" height="3.65" fill="#a8032c"/>
<rect x="248.62" y="366.45" width="7.76" height="3.65" fill="#a8032c"/>
<rect x="389.09" y="366.45" width="7.76" height="3.65" fill="#a8032c"/>
<rect x="108.15" y="370.10" width="7.76" height="3.65" fill="#a8032c"/>
<rect x="165.99" y="370.10" width="7.76" height="3.65" fill="#485064"/>
<rect x="182.52" y="370.10" width="7.76" height="3.65" fill="#485064"/>
<rect x="199.04" y="370.10" width="7.76" height="3.65" fill="#485064"/>
<rect x="223.83" y="370.10" width="7.76" height="3.65" fill="#485064"/>
<rect x="240.36" y="370.10" width="7.76" height="3.65" fill="#485064"/>
<rect x="256.88" y="370.10" width="7.76" height="3.65" fill="#485064"/>
<rect x="289.94" y="370.10" width="7.76" height="3.65" fill="#485064"/>
<rect x="314.73" y="370.10" width="7.76" height="3.65" fill="#485064"/>
<rect x="331.25" y="370.10" width="7.76" height="3.65" fill="#485064"/>
<rect x="380.83" y="370.10" width="7.76" height="3.65" fill="#485064"/>
<rect x="397.36" y="370.10" width="7.76" height="3.65" fill="#485064"/>
<rect x="405.62" y="370.10" width="7.76" height="3.65" fill="#a8032c"/>
<rect x="463.46" y="370.10" width="7.76" height="3.65" fill="#485064"/>
<rect x="471.72" y="370.10" width="7.76" height="3.65" fill="#485064"/>
<rect x="479.99" y="370.10" width="7.76" height="3.65" fill="#485064"/>
<rect x="488.25" y="370.10" width="7.76" height="3.65" fill="#485064"/>
<rect x="124.68" y="373.75" width="7.76" height="3.65" fill="#485064"/>
<rect x="165.99" y="373.75" width="7.76" height="3.65" fill="#485064"/>
<rect x="190.78" y="373.75" width="7.76" height="3.65" fill="#a8032c"/>
<rect x="199.04" y="373.75" width="7.76" height="3.65" fill="#485064"/>
<rect x="256.88" y="373.75" width="7.76" height="3.65" fill="#485064"/>
<rect x="289.94" y="373.75" width="7.76" height="3.65" fill="#485064"/>
<rect x="331.25" y="373.75" width="7.76" height="3.65" fill="#485064"/>
<rect x="339.51" y="373.75" width="7.76" height="3.65" fill="#485064"/>
<rect x="380.83" y="373.75" width="7.76" height="3.65" fill="#485064"/>
<rect x="397.36" y="373.75" width="7.76" height="3.65" fill="#485064"/>
<rect x="405.62" y="373.75" width="7.76" height="3.65" fill="#485064"/>
<rect x="413.88" y="373.75" width="7.76" height="3.65" fill="#485064"/>
<rect x="124.68" y="377.40" width="7.76" height="3.65" fill="#485064"/>
<rect x="199.04" y="377.40" width="7.76" height="3.65" fill="#485064"/>
<rect x="240.36" y="377.40" width="7.76" height="3.65" fill="#485064"/>
<rect x="256.88" y="377.40" width="7.76" height="3.65" fill="#a8032c"/>
<rect x="380.83" y="377.40" width="7.76" height="3.65" fill="#485064"/>
<rect x="389.09" y="377.40" width="7.76" height="3.65" fill="#485064"/>
<rect x="397.36" y="377.40" width="7.76" height="3.65" fill="#a8032c"/>
<rect x="405.62" y="377.40" width="7.76" height="3.65" fill="#485064"/>
<rect x="422.14" y="377.40" width="7.76" height="3.65" fill="#a8032c"/>
<rect x="455.20" y="377.40" width="7.76" height="3.65" fill="#485064"/>
<rect x="124.68" y="381.04" width="7.76" height="3.65" fill="#485064"/>
<rect x="141.20" y="381.04" width="7.76" height="3.65" fill="#485064"/>
<rect x="157.73" y="381.04" width="7.76" height="3.65" fill="#a8032c"/>
<rect x="182.52" y="381.04" width="7.76" height="3.65" fill="#a8032c"/>
<rect x="248.62" y="381.04" width="7.76" height="3.65" fill="#485064"/>
<rect x="256.88" y="381.04" width="7.76" height="3.65" fill="#a8032c"/>
<rect x="265.15" y="381.04" width="7.76" height="3.65" fill="#a8032c"/>
<rect x="273.41" y="381.04" width="7.76" height="3.65" fill="#a8032c"/>
<rect x="364.30" y="381.04" width="7.76" height="3.65" fill="#a8032c"/>
<rect x="380.83" y="381.04" width="7.76" height="3.65" fill="#485064"/>
<rect x="389.09" y="381.04" width="7.76" height="3.65" fill="#a8032c"/>
<rect x="397.36" y="381.04" width="7.76" height="3.65" fill="#485064"/>
<rect x="405.62" y="381.04" width="7.76" height="3.65" fill="#485064"/>
<rect x="413.88" y="381.04" width="7.76" height="3.65" fill="#485064"/>
<rect x="422.14" y="381.04" width="7.76" height="3.65" fill="#a8032c"/>
<rect x="479.99" y="381.04" width="7.76" height="3.65" fill="#a8032c"/>
<rect x="157.73" y="384.69" width="7.76" height="3.65" fill="#a8032c"/>
<rect x="240.36" y="384.69" width="7.76" height="3.65" fill="#a8032c"/>
<rect x="248.62" y="384.69" width="7.76" height="3.65" fill="#485064"/>
<rect x="281.67" y="384.69" width="7.76" height="3.65" fill="#a8032c"/>
<rect x="289.94" y="384.69" width="7.76" height="3.65" fill="#a8032c"/>
<rect x="364.30" y="384.69" width="7.76" height="3.65" fill="#a8032c"/>
<rect x="389.09" y="384.69" width="7.76" height="3.65" fill="#485064"/>
<rect x="405.62" y="384.69" width="7.76" height="3.65" fill="#485064"/>
<rect x="413.88" y="384.69" width="7.76" height="3.65" fill="#a8032c"/>
<rect x="422.14" y="384.69" width="7.76" height="3.65" fill="#a8032c"/>
<rect x="174.25" y="388.34" width="7.76" height="3.65" fill="#485064"/>
<rect x="199.04" y="388.34" width="7.76" height="3.65" fill="#485064"/>
<rect x="240.36" y="388.34" width="7.76" height="3.65" fill="#485064"/>
<rect x="256.88" y="388.34" width="7.76" height="3.65" fill="#485064"/>
<rect x="265.15" y="388.34" width="7.76" height="3.65" fill="#485064"/>
<rect x="405.62" y="388.34" width="7.76" height="3.65" fill="#485064"/>
<rect x="108.15" y="391.99" width="7.76" height="3.65" fill="#a8032c"/>
<rect x="174.25" y="391.99" width="7.76" height="3.65" fill="#485064"/>
<rect x="190.78" y="391.99" width="7.76" height="3.65" fill="#485064"/>
<rect x="248.62" y="391.99" width="7.76" height="3.65" fill="#485064"/>
<rect x="256.88" y="391.99" width="7.76" height="3.65" fill="#485064"/>
<rect x="281.67" y="391.99" width="7.76" height="3.65" fill="#485064"/>
<rect x="289.94" y="391.99" width="7.76" height="3.65" fill="#485064"/>
<rect x="306.46" y="391.99" width="7.76" height="3.65" fill="#485064"/>
<rect x="331.25" y="391.99" width="7.76" height="3.65" fill="#a8032c"/>
<rect x="380.83" y="391.99" width="7.76" height="3.65" fill="#485064"/>
<rect x="389.09" y="391.99" width="7.76" height="3.65" fill="#485064"/>
<rect x="422.14" y="391.99" width="7.76" height="3.65" fill="#485064"/>
<rect x="488.25" y="391.99" width="7.76" height="3.65" fill="#a8032c"/>
<rect x="124.68" y="395.64" width="7.76" height="3.65" fill="#485064"/>
<rect x="149.47" y="395.64" width="7.76" height="3.65" fill="#485064"/>
<rect x="165.99" y="395.64" width="7.76" height="3.65" fill="#485064"/>
<rect x="190.78" y="395.64" width="7.76" height="3.65" fill="#a8032c"/>
<rect x="199.04" y="395.64" width="7.76" height="3.65" fill="#485064"/>
<rect x="248.62" y="395.64" width="7.76" height="3.65" fill="#485064"/>
<rect x="256.88" y="395.64" width="7.76" height="3.65" fill="#485064"/>
<rect x="306.46" y="395.64" width="7.76" height="3.65" fill="#a8032c"/>
<rect x="347.78" y="395.64" width="7.76" height="3.65" fill="#485064"/>
<rect x="364.30" y="395.64" width="7.76" height="3.65" fill="#485064"/>
<rect x="380.83" y="395.64" width="7.76" height="3.65" fill="#485064"/>
<rect x="405.62" y="395.64" width="7.76" height="3.65" fill="#485064"/>
<rect x="413.88" y="395.64" width="7.76" height="3.65" fill="#485064"/>
<rect x="422.14" y="395.64" width="7.76" height="3.65" fill="#a8032c"/>
<rect x="306.46" y="399.28" width="7.76" height="3.65" fill="#a8032c"/>
<rect x="397.36" y="402.93" width="7.76" height="3.65" fill="#485064"/>
<rect x="413.88" y="402.93" width="7.76" height="3.65" fill="#485064"/>
<rect x="455.20" y="402.93" width="7.76" height="3.65" fill="#a8032c"/>
<rect x="157.73" y="406.58" width="7.76" height="3.65" fill="#a8032c"/>
<rect x="174.25" y="406.58" width="7.76" height="3.65" fill="#a8032c"/>
<rect x="190.78" y="406.58" width="7.76" height="3.65" fill="#a8032c"/>
<rect x="199.04" y="406.58" width="7.76" height="3.65" fill="#a8032c"/>
<rect x="265.15" y="406.58" width="7.76" height="3.65" fill="#a8032c"/>
<rect x="289.94" y="406.58" width="7.76" height="3.65" fill="#485064"/>
<rect x="380.83" y="406.58" width="7.76" height="3.65" fill="#485064"/>
<rect x="389.09" y="406.58" width="7.76" height="3.65" fill="#485064"/>
<rect x="397.36" y="406.58" width="7.76" height="3.65" fill="#485064"/>
<rect x="405.62" y="406.58" width="7.76" height="3.65" fill="#485064"/>
<rect x="413.88" y="406.58" width="7.76" height="3.65" fill="#a8032c"/>
<rect x="199.04" y="410.23" width="7.76" height="3.65" fill="#a8032c"/>
<rect x="248.62" y="410.23" width="7.76" height="3.65" fill="#485064"/>
<rect x="347.78" y="410.23" width="7.76" height="3.65" fill="#485064"/>
<rect x="380.83" y="410.23" width="7.76" height="3.65" fill="#485064"/>
<rect x="446.93" y="410.23" width="7.76" height="3.65" fill="#485064"/>
<rect x="199.04" y="413.88" width="7.76" height="3.65" fill="#a8032c"/>
<rect x="240.36" y="413.88" width="7.76" height="3.65" fill="#a8032c"/>
<rect x="256.88" y="413.88" width="7.76" height="3.65" fill="#a8032c"/>
<rect x="413.88" y="413.88" width="7.76" height="3.65" fill="#a8032c"/>
<rect x="108.15" y="417.52" width="7.76" height="3.65" fill="#485064"/>
<rect x="413.88" y="417.52" width="7.76" height="3.65" fill="#485064"/>
<rect x="248.62" y="421.17" width="7.76" height="3.65" fill="#485064"/>
<rect x="380.83" y="421.17" width="7.76" height="3.65" fill="#a8032c"/>
<rect x="108.15" y="424.82" width="7.76" height="3.65" fill="#485064"/>
<rect x="141.20" y="424.82" width="7.76" height="3.65" fill="#485064"/>
<rect x="165.99" y="424.82" width="7.76" height="3.65" fill="#485064"/>
<rect x="190.78" y="424.82" width="7.76" height="3.65" fill="#485064"/>
<rect x="199.04" y="424.82" width="7.76" height="3.65" fill="#485064"/>
<rect x="215.57" y="424.82" width="7.76" height="3.65" fill="#a8032c"/>
<rect x="248.62" y="424.82" width="7.76" height="3.65" fill="#485064"/>
<rect x="256.88" y="424.82" width="7.76" height="3.65" fill="#485064"/>
<rect x="265.15" y="424.82" width="7.76" height="3.65" fill="#485064"/>
<rect x="281.67" y="424.82" width="7.76" height="3.65" fill="#a8032c"/>
<rect x="298.20" y="424.82" width="7.76" height="3.65" fill="#485064"/>
<rect x="306.46" y="424.82" width="7.76" height="3.65" fill="#485064"/>
<rect x="314.73" y="424.82" width="7.76" height="3.65" fill="#485064"/>
<rect x="322.99" y="424.82" width="7.76" height="3.65" fill="#485064"/>
<rect x="347.78" y="424.82" width="7.76" height="3.65" fill="#485064"/>
<rect x="380.83" y="424.82" width="7.76" height="3.65" fill="#a8032c"/>
<rect x="389.09" y="424.82" width="7.76" height="3.65" fill="#485064"/>
<rect x="397.36" y="424.82" width="7.76" height="3.65" fill="#485064"/>
<rect x="413.88" y="424.82" width="7.76" height="3.65" fill="#485064"/>
<rect x="422.14" y="424.82" width="7.76" height="3.65" fill="#485064"/>
<rect x="455.20" y="424.82" width="7.76" height="3.65" fill="#485064"/>
<rect x="504.77" y="424.82" width="7.76" height="3.65" fill="#485064"/>
<rect x="108.15" y="428.47" width="7.76" height="3.65" fill="#a8032c"/>
<rect x="165.99" y="428.47" width="7.76" height="3.65" fill="#a8032c"/>
<rect x="182.52" y="428.47" width="7.76" height="3.65" fill="#485064"/>
<rect x="190.78" y="428.47" width="7.76" height="3.65" fill="#485064"/>
<rect x="199.04" y="428.47" width="7.76" height="3.65" fill="#485064"/>
<rect x="248.62" y="428.47" width="7.76" height="3.65" fill="#485064"/>
<rect x="256.88" y="428.47" width="7.76" height="3.65" fill="#485064"/>
<rect x="265.15" y="428.47" width="7.76" height="3.65" fill="#485064"/>
<rect x="289.94" y="428.47" width="7.76" height="3.65" fill="#485064"/>
<rect x="306.46" y="428.47" width="7.76" height="3.65" fill="#485064"/>
<rect x="314.73" y="428.47" width="7.76" height="3.65" fill="#485064"/>
<rect x="380.83" y="428.47" width="7.76" height="3.65" fill="#485064"/>
<rect x="397.36" y="428.47" width="7.76" height="3.65" fill="#485064"/>
<rect x="405.62" y="428.47" width="7.76" height="3.65" fill="#485064"/>
<rect x="413.88" y="428.47" width="7.76" height="3.65" fill="#485064"/>
<rect x="422.14" y="428.47" width="7.76" height="3.65" fill="#a8032c"/>
<rect x="463.46" y="428.47" width="7.76" height="3.65" fill="#485064"/>
<rect x="496.51" y="428.47" width="7.76" height="3.65" fill="#485064"/>
<rect x="108.15" y="432.12" width="7.76" height="3.65" fill="#485064"/>
<rect x="157.73" y="432.12" width="7.76" height="3.65" fill="#485064"/>
<rect x="199.04" y="432.12" width="7.76" height="3.65" fill="#485064"/>
<rect x="256.88" y="432.12" width="7.76" height="3.65" fill="#485064"/>
<rect x="289.94" y="432.12" width="7.76" height="3.65" fill="#485064"/>
<rect x="314.73" y="432.12" width="7.76" height="3.65" fill="#485064"/>
<rect x="322.99" y="432.12" width="7.76" height="3.65" fill="#485064"/>
<rect x="331.25" y="432.12" width="7.76" height="3.65" fill="#485064"/>
<rect x="347.78" y="432.12" width="7.76" height="3.65" fill="#485064"/>
<rect x="389.09" y="432.12" width="7.76" height="3.65" fill="#485064"/>
<rect x="405.62" y="432.12" width="7.76" height="3.65" fill="#485064"/>
<rect x="422.14" y="432.12" width="7.76" height="3.65" fill="#485064"/>
<rect x="496.51" y="432.12" width="7.76" height="3.65" fill="#485064"/>
<rect x="504.77" y="432.12" width="7.76" height="3.65" fill="#485064"/>
<rect x="248.62" y="435.76" width="7.76" height="3.65" fill="#485064"/>
<rect x="256.88" y="435.76" width="7.76" height="3.65" fill="#485064"/>
<rect x="289.94" y="435.76" width="7.76" height="3.65" fill="#485064"/>
<rect x="364.30" y="435.76" width="7.76" height="3.65" fill="#485064"/>
<rect x="380.83" y="435.76" width="7.76" height="3.65" fill="#485064"/>
<rect x="389.09" y="435.76" width="7.76" height="3.65" fill="#485064"/>
<rect x="397.36" y="435.76" width="7.76" height="3.65" fill="#485064"/>
<rect x="413.88" y="435.76" width="7.76" height="3.65" fill="#a8032c"/>
<rect x="446.93" y="435.76" width="7.76" height="3.65" fill="#485064"/>
<rect x="463.46" y="435.76" width="7.76" height="3.65" fill="#485064"/>
<rect x="471.72" y="435.76" width="7.76" height="3.65" fill="#485064"/>
<rect x="479.99" y="435.76" width="7.76" height="3.65" fill="#485064"/>
<rect x="157.73" y="439.41" width="7.76" height="3.65" fill="#485064"/>
<rect x="165.99" y="439.41" width="7.76" height="3.65" fill="#485064"/>
<rect x="174.25" y="439.41" width="7.76" height="3.65" fill="#485064"/>
<rect x="281.67" y="439.41" width="7.76" height="3.65" fill="#485064"/>
<rect x="347.78" y="439.41" width="7.76" height="3.65" fill="#a8032c"/>
<rect x="380.83" y="439.41" width="7.76" height="3.65" fill="#a8032c"/>
<rect x="397.36" y="439.41" width="7.76" height="3.65" fill="#485064"/>
<rect x="405.62" y="439.41" width="7.76" height="3.65" fill="#485064"/>
<rect x="455.20" y="439.41" width="7.76" height="3.65" fill="#485064"/>
<rect x="479.99" y="439.41" width="7.76" height="3.65" fill="#485064"/>
<rect x="496.51" y="439.41" width="7.76" height="3.65" fill="#485064"/>
<rect x="124.68" y="443.06" width="7.76" height="3.65" fill="#a8032c"/>
<rect x="174.25" y="443.06" width="7.76" height="3.65" fill="#485064"/>
<rect x="182.52" y="443.06" width="7.76" height="3.65" fill="#a8032c"/>
<rect x="190.78" y="443.06" width="7.76" height="3.65" fill="#a8032c"/>
<rect x="248.62" y="443.06" width="7.76" height="3.65" fill="#a8032c"/>
<rect x="281.67" y="443.06" width="7.76" height="3.65" fill="#a8032c"/>
<rect x="306.46" y="443.06" width="7.76" height="3.65" fill="#a8032c"/>
<rect x="389.09" y="443.06" width="7.76" height="3.65" fill="#485064"/>
<rect x="413.88" y="443.06" width="7.76" height="3.65" fill="#a8032c"/>
<rect x="422.14" y="443.06" width="7.76" height="3.65" fill="#485064"/>
<rect x="157.73" y="446.71" width="7.76" height="3.65" fill="#485064"/>
<rect x="174.25" y="446.71" width="7.76" height="3.65" fill="#485064"/>
<rect x="199.04" y="446.71" width="7.76" height="3.65" fill="#485064"/>
<rect x="248.62" y="446.71" width="7.76" height="3.65" fill="#485064"/>
<rect x="256.88" y="446.71" width="7.76" height="3.65" fill="#a8032c"/>
<rect x="265.15" y="446.71" width="7.76" height="3.65" fill="#485064"/>
<rect x="281.67" y="446.71" width="7.76" height="3.65" fill="#485064"/>
<rect x="306.46" y="446.71" width="7.76" height="3.65" fill="#485064"/>
<rect x="364.30" y="446.71" width="7.76" height="3.65" fill="#485064"/>
<rect x="389.09" y="446.71" width="7.76" height="3.65" fill="#485064"/>
<rect x="413.88" y="446.71" width="7.76" height="3.65" fill="#485064"/>
<rect x="422.14" y="446.71" width="7.76" height="3.65" fill="#a8032c"/>
<rect x="438.67" y="446.71" width="7.76" height="3.65" fill="#a8032c"/>
<rect x="471.72" y="446.71" width="7.76" height="3.65" fill="#a8032c"/>
<rect x="108.15" y="450.36" width="7.76" height="3.65" fill="#485064"/>
<rect x="124.68" y="450.36" width="7.76" height="3.65" fill="#485064"/>
<rect x="157.73" y="450.36" width="7.76" height="3.65" fill="#485064"/>
<rect x="165.99" y="450.36" width="7.76" height="3.65" fill="#485064"/>
<rect x="248.62" y="450.36" width="7.76" height="3.65" fill="#a8032c"/>
<rect x="256.88" y="450.36" width="7.76" height="3.65" fill="#485064"/>
<rect x="289.94" y="450.36" width="7.76" height="3.65" fill="#485064"/>
<rect x="306.46" y="450.36" width="7.76" height="3.65" fill="#485064"/>
<rect x="314.73" y="450.36" width="7.76" height="3.65" fill="#485064"/>
<rect x="397.36" y="450.36" width="7.76" height="3.65" fill="#a8032c"/>
<rect x="413.88" y="450.36" width="7.76" height="3.65" fill="#485064"/>
<rect x="422.14" y="450.36" width="7.76" height="3.65" fill="#485064"/>
<rect x="488.25" y="450.36" width="7.76" height="3.65" fill="#485064"/>
<rect x="108.15" y="454.00" width="7.76" height="3.65" fill="#a8032c"/>
<rect x="149.47" y="454.00" width="7.76" height="3.65" fill="#a8032c"/>
<rect x="199.04" y="454.00" width="7.76" height="3.65" fill="#a8032c"/>
<rect x="248.62" y="454.00" width="7.76" height="3.65" fill="#a8032c"/>
<rect x="331.25" y="454.00" width="7.76" height="3.65" fill="#a8032c"/>
<rect x="347.78" y="454.00" width="7.76" height="3.65" fill="#a8032c"/>
<rect x="380.83" y="454.00" width="7.76" height="3.65" fill="#a8032c"/>
<rect x="397.36" y="454.00" width="7.76" height="3.65" fill="#a8032c"/>
<rect x="413.88" y="454.00" width="7.76" height="3.65" fill="#485064"/>
<rect x="455.20" y="454.00" width="7.76" height="3.65" fill="#a8032c"/>
<rect x="124.68" y="457.65" width="7.76" height="3.65" fill="#485064"/>
<rect x="157.73" y="457.65" width="7.76" height="3.65" fill="#485064"/>
<rect x="248.62" y="457.65" width="7.76" height="3.65" fill="#485064"/>
<rect x="281.67" y="457.65" width="7.76" height="3.65" fill="#485064"/>
<rect x="289.94" y="457.65" width="7.76" height="3.65" fill="#485064"/>
<rect x="306.46" y="457.65" width="7.76" height="3.65" fill="#485064"/>
<rect x="347.78" y="457.65" width="7.76" height="3.65" fill="#a8032c"/>
<rect x="389.09" y="457.65" width="7.76" height="3.65" fill="#485064"/>
<rect x="405.62" y="457.65" width="7.76" height="3.65" fill="#485064"/>
<rect x="422.14" y="457.65" width="7.76" height="3.65" fill="#a8032c"/>
<rect x="121.5" y="471.2" width="10.4" height="5" fill="#a8032c"/>
<text x="136.2" y="475.6" font-size="5.0" fill="#222" stroke="#222" stroke-width="0.12">Missense</text>
<rect x="174.9" y="471.2" width="10.2" height="5" fill="#485064"/>
<text x="189.7" y="475.6" font-size="5.0" fill="#222" stroke="#222" stroke-width="0.12">Damaging</text>
<rect x="396.90" y="471.2" width="10.3" height="5" fill="#e9bb1e"/>
<text x="411.30" y="475.6" font-size="5.0" fill="#222" stroke="#222" stroke-width="0.12">ESP</text>
<rect x="436.90" y="471.2" width="10.3" height="5" fill="#a8661f"/>
<text x="451.60" y="475.6" font-size="5.0" fill="#222" stroke="#222" stroke-width="0.12">LSP</text>
<rect x="476.20" y="471.2" width="10.3" height="5" fill="#acbc86"/>
<text x="490.90" y="475.6" font-size="5.0" fill="#222" stroke="#222" stroke-width="0.12">TMR</text>
</g>
<rect x="0.5" y="0.5" width="519" height="483" fill="none" stroke="#000" stroke-width="1.2"/>
</svg></body></html>
